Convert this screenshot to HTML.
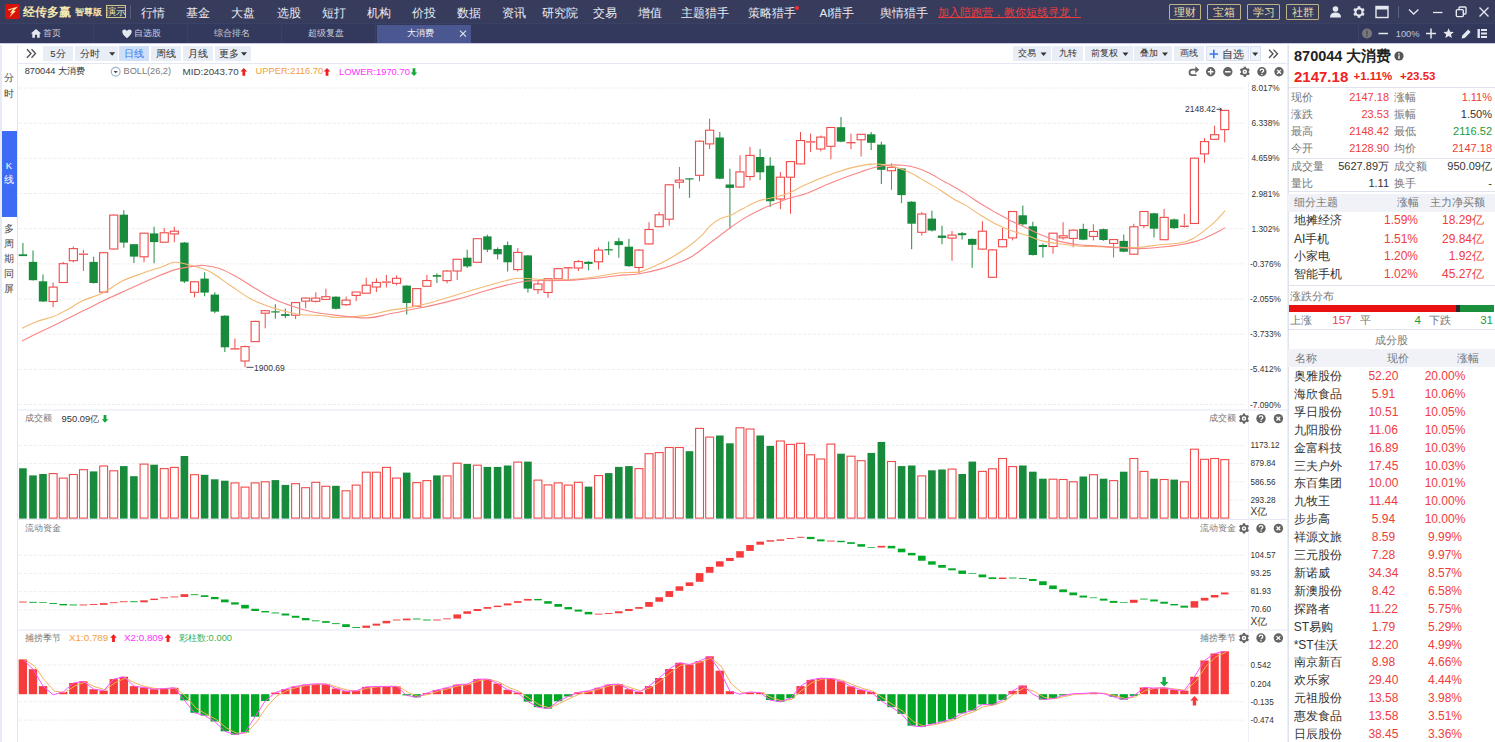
<!DOCTYPE html>
<html><head><meta charset="utf-8"><title>chart</title>
<style>
html,body{margin:0;padding:0;}
body{width:1495px;height:742px;overflow:hidden;background:#fff;position:relative;font-family:"Liberation Sans",sans-serif;}
.t{position:absolute;white-space:nowrap;overflow:visible;}
.b{position:absolute;}
svg{position:absolute;left:0;top:0;}
.g{stroke:#eeeeee;stroke-width:1;stroke-dasharray:3.3 1.6;}
</style></head><body>
<svg width="1495" height="742" viewBox="0 0 1495 742">
<line x1="19" y1="88.0" x2="1245" y2="88.0" class="g"/>
<line x1="19" y1="123.2" x2="1245" y2="123.2" class="g"/>
<line x1="19" y1="158.3" x2="1245" y2="158.3" class="g"/>
<line x1="19" y1="193.5" x2="1245" y2="193.5" class="g"/>
<line x1="19" y1="228.7" x2="1245" y2="228.7" class="g"/>
<line x1="19" y1="263.9" x2="1245" y2="263.9" class="g"/>
<line x1="19" y1="299.0" x2="1245" y2="299.0" class="g"/>
<line x1="19" y1="334.2" x2="1245" y2="334.2" class="g"/>
<line x1="19" y1="369.4" x2="1245" y2="369.4" class="g"/>
<line x1="19" y1="404.5" x2="1245" y2="404.5" class="g"/>
<line x1="19" y1="445.4" x2="1245" y2="445.4" class="g"/>
<line x1="19" y1="463.6" x2="1245" y2="463.6" class="g"/>
<line x1="19" y1="481.8" x2="1245" y2="481.8" class="g"/>
<line x1="19" y1="499.9" x2="1245" y2="499.9" class="g"/>
<line x1="19" y1="555.2" x2="1245" y2="555.2" class="g"/>
<line x1="19" y1="573.3" x2="1245" y2="573.3" class="g"/>
<line x1="19" y1="591.7" x2="1245" y2="591.7" class="g"/>
<line x1="19" y1="609.8" x2="1245" y2="609.8" class="g"/>
<line x1="19" y1="665.0" x2="1245" y2="665.0" class="g"/>
<line x1="19" y1="683.6" x2="1245" y2="683.6" class="g"/>
<line x1="19" y1="701.7" x2="1245" y2="701.7" class="g"/>
<line x1="19" y1="720.1" x2="1245" y2="720.1" class="g"/>
<line x1="18" y1="63.5" x2="1287" y2="63.5" stroke="#e4e8f2" stroke-width="1"/>
<line x1="18" y1="410" x2="1287" y2="410" stroke="#e4e8f2" stroke-width="1"/>
<line x1="18" y1="519.5" x2="1287" y2="519.5" stroke="#e4e8f2" stroke-width="1"/>
<line x1="18" y1="630" x2="1287" y2="630" stroke="#e4e8f2" stroke-width="1"/>
<line x1="1248.5" y1="82" x2="1248.5" y2="742" stroke="#edf0f7" stroke-width="1"/>
<line x1="22.9" y1="243.1" x2="22.9" y2="256.1" stroke="#178a3b" stroke-width="1.2" opacity=".8"/>
<rect x="18.7" y="254.3" width="8.4" height="1.8" fill="#178a3b"/>
<line x1="33.0" y1="250.4" x2="33.0" y2="280.6" stroke="#178a3b" stroke-width="1.2" opacity=".8"/>
<rect x="28.8" y="261.9" width="8.4" height="18.3" fill="#178a3b"/>
<line x1="43.0" y1="274.5" x2="43.0" y2="301.9" stroke="#178a3b" stroke-width="1.2" opacity=".8"/>
<rect x="38.8" y="281.3" width="8.4" height="20.2" fill="#178a3b"/>
<line x1="53.1" y1="282.5" x2="53.1" y2="287.1" stroke="#f04a4a" stroke-width="1"/>
<line x1="53.1" y1="301.5" x2="53.1" y2="307.2" stroke="#f04a4a" stroke-width="1"/>
<rect x="49.10" y="287.1" width="8.1" height="14.4" fill="#fff" stroke="#f04a4a" stroke-width="1.1"/>
<line x1="63.2" y1="261.9" x2="63.2" y2="263.7" stroke="#f04a4a" stroke-width="1"/>
<line x1="63.2" y1="282.5" x2="63.2" y2="282.9" stroke="#f04a4a" stroke-width="1"/>
<rect x="59.20" y="263.7" width="8.1" height="18.8" fill="#fff" stroke="#f04a4a" stroke-width="1.1"/>
<line x1="73.3" y1="246.5" x2="73.3" y2="248.6" stroke="#f04a4a" stroke-width="1"/>
<line x1="73.3" y1="260.7" x2="73.3" y2="262.3" stroke="#f04a4a" stroke-width="1"/>
<rect x="69.30" y="248.6" width="8.1" height="12.1" fill="#fff" stroke="#f04a4a" stroke-width="1.1"/>
<line x1="83.4" y1="249.9" x2="83.4" y2="253.4" stroke="#f04a4a" stroke-width="1"/>
<line x1="83.4" y1="255.0" x2="83.4" y2="271.0" stroke="#f04a4a" stroke-width="1"/>
<line x1="78.90" y1="254.2" x2="88.00" y2="254.2" stroke="#f04a4a" stroke-width="1.3"/>
<line x1="93.6" y1="256.8" x2="93.6" y2="283.4" stroke="#178a3b" stroke-width="1.2" opacity=".8"/>
<rect x="89.4" y="261.9" width="8.4" height="21.1" fill="#178a3b"/>
<line x1="103.7" y1="252.2" x2="103.7" y2="252.7" stroke="#f04a4a" stroke-width="1"/>
<line x1="103.7" y1="292.1" x2="103.7" y2="292.8" stroke="#f04a4a" stroke-width="1"/>
<rect x="99.60" y="252.7" width="8.1" height="39.4" fill="#fff" stroke="#f04a4a" stroke-width="1.1"/>
<line x1="113.8" y1="214.7" x2="113.8" y2="215.1" stroke="#f04a4a" stroke-width="1"/>
<line x1="113.8" y1="249.0" x2="113.8" y2="249.5" stroke="#f04a4a" stroke-width="1"/>
<rect x="109.70" y="215.1" width="8.1" height="33.9" fill="#fff" stroke="#f04a4a" stroke-width="1.1"/>
<line x1="123.8" y1="210.3" x2="123.8" y2="247.7" stroke="#178a3b" stroke-width="1.2" opacity=".8"/>
<rect x="119.6" y="214.7" width="8.4" height="27.9" fill="#178a3b"/>
<line x1="133.9" y1="244.2" x2="133.9" y2="263.0" stroke="#178a3b" stroke-width="1.2" opacity=".8"/>
<rect x="129.8" y="244.2" width="8.4" height="12.4" fill="#178a3b"/>
<line x1="144.0" y1="232.8" x2="144.0" y2="233.2" stroke="#f04a4a" stroke-width="1"/>
<line x1="144.0" y1="256.8" x2="144.0" y2="262.3" stroke="#f04a4a" stroke-width="1"/>
<rect x="140.00" y="233.2" width="8.1" height="23.6" fill="#fff" stroke="#f04a4a" stroke-width="1.1"/>
<line x1="154.1" y1="226.8" x2="154.1" y2="263.2" stroke="#178a3b" stroke-width="1.2" opacity=".8"/>
<rect x="149.9" y="233.4" width="8.4" height="8.7" fill="#178a3b"/>
<line x1="164.2" y1="227.9" x2="164.2" y2="232.8" stroke="#f04a4a" stroke-width="1"/>
<line x1="164.2" y1="242.2" x2="164.2" y2="242.6" stroke="#f04a4a" stroke-width="1"/>
<rect x="160.20" y="232.8" width="8.1" height="9.4" fill="#fff" stroke="#f04a4a" stroke-width="1.1"/>
<line x1="174.3" y1="226.8" x2="174.3" y2="231.2" stroke="#f04a4a" stroke-width="1"/>
<line x1="174.3" y1="233.9" x2="174.3" y2="242.2" stroke="#f04a4a" stroke-width="1"/>
<rect x="170.30" y="231.2" width="8.1" height="2.7" fill="#fff" stroke="#f04a4a" stroke-width="1.1"/>
<line x1="184.4" y1="241.9" x2="184.4" y2="282.9" stroke="#178a3b" stroke-width="1.2" opacity=".8"/>
<rect x="180.2" y="242.6" width="8.4" height="38.9" fill="#178a3b"/>
<line x1="194.5" y1="281.3" x2="194.5" y2="281.8" stroke="#f04a4a" stroke-width="1"/>
<line x1="194.5" y1="292.3" x2="194.5" y2="297.4" stroke="#f04a4a" stroke-width="1"/>
<rect x="190.50" y="281.8" width="8.1" height="10.5" fill="#fff" stroke="#f04a4a" stroke-width="1.1"/>
<line x1="204.6" y1="272.2" x2="204.6" y2="296.2" stroke="#178a3b" stroke-width="1.2" opacity=".8"/>
<rect x="200.4" y="278.6" width="8.4" height="14.0" fill="#178a3b"/>
<line x1="214.8" y1="292.3" x2="214.8" y2="313.2" stroke="#178a3b" stroke-width="1.2" opacity=".8"/>
<rect x="210.6" y="294.6" width="8.4" height="17.0" fill="#178a3b"/>
<line x1="224.8" y1="315.2" x2="224.8" y2="351.9" stroke="#178a3b" stroke-width="1.2" opacity=".8"/>
<rect x="220.7" y="315.7" width="8.4" height="31.6" fill="#178a3b"/>
<line x1="234.9" y1="338.6" x2="234.9" y2="348.5" stroke="#f04a4a" stroke-width="1"/>
<line x1="234.9" y1="349.4" x2="234.9" y2="349.4" stroke="#f04a4a" stroke-width="1"/>
<line x1="230.40" y1="348.9" x2="239.50" y2="348.9" stroke="#f04a4a" stroke-width="1.3"/>
<line x1="245.0" y1="345.5" x2="245.0" y2="346.6" stroke="#f04a4a" stroke-width="1"/>
<line x1="245.0" y1="361.1" x2="245.0" y2="367.2" stroke="#f04a4a" stroke-width="1"/>
<rect x="241.00" y="346.6" width="8.1" height="14.4" fill="#fff" stroke="#f04a4a" stroke-width="1.1"/>
<line x1="255.1" y1="320.7" x2="255.1" y2="321.4" stroke="#f04a4a" stroke-width="1"/>
<line x1="255.1" y1="341.6" x2="255.1" y2="342.0" stroke="#f04a4a" stroke-width="1"/>
<rect x="251.10" y="321.4" width="8.1" height="20.2" fill="#fff" stroke="#f04a4a" stroke-width="1.1"/>
<line x1="265.2" y1="310.0" x2="265.2" y2="310.7" stroke="#f04a4a" stroke-width="1"/>
<line x1="265.2" y1="313.2" x2="265.2" y2="328.3" stroke="#f04a4a" stroke-width="1"/>
<rect x="261.20" y="310.7" width="8.1" height="2.5" fill="#fff" stroke="#f04a4a" stroke-width="1.1"/>
<line x1="275.4" y1="304.2" x2="275.4" y2="318.7" stroke="#178a3b" stroke-width="1.2" opacity=".8"/>
<rect x="271.2" y="311.3" width="8.4" height="1.2" fill="#178a3b"/>
<line x1="285.4" y1="308.4" x2="285.4" y2="318.2" stroke="#178a3b" stroke-width="1.2" opacity=".8"/>
<rect x="281.2" y="314.1" width="8.4" height="1.8" fill="#178a3b"/>
<line x1="295.6" y1="302.2" x2="295.6" y2="302.6" stroke="#f04a4a" stroke-width="1"/>
<line x1="295.6" y1="315.2" x2="295.6" y2="319.1" stroke="#f04a4a" stroke-width="1"/>
<rect x="291.50" y="302.6" width="8.1" height="12.6" fill="#fff" stroke="#f04a4a" stroke-width="1.1"/>
<line x1="305.7" y1="297.6" x2="305.7" y2="298.1" stroke="#f04a4a" stroke-width="1"/>
<line x1="305.7" y1="301.0" x2="305.7" y2="308.4" stroke="#f04a4a" stroke-width="1"/>
<rect x="301.60" y="298.1" width="8.1" height="3.0" fill="#fff" stroke="#f04a4a" stroke-width="1.1"/>
<line x1="315.8" y1="292.3" x2="315.8" y2="298.1" stroke="#f04a4a" stroke-width="1"/>
<line x1="315.8" y1="301.3" x2="315.8" y2="302.6" stroke="#f04a4a" stroke-width="1"/>
<rect x="311.70" y="298.1" width="8.1" height="3.2" fill="#fff" stroke="#f04a4a" stroke-width="1.1"/>
<line x1="325.9" y1="288.7" x2="325.9" y2="296.7" stroke="#f04a4a" stroke-width="1"/>
<line x1="325.9" y1="299.4" x2="325.9" y2="299.9" stroke="#f04a4a" stroke-width="1"/>
<rect x="321.80" y="296.7" width="8.1" height="2.7" fill="#fff" stroke="#f04a4a" stroke-width="1.1"/>
<line x1="335.9" y1="296.2" x2="335.9" y2="309.5" stroke="#178a3b" stroke-width="1.2" opacity=".8"/>
<rect x="331.8" y="296.7" width="8.4" height="12.1" fill="#178a3b"/>
<line x1="346.1" y1="296.6" x2="346.1" y2="300.1" stroke="#f04a4a" stroke-width="1"/>
<line x1="346.1" y1="304.6" x2="346.1" y2="305.8" stroke="#f04a4a" stroke-width="1"/>
<rect x="342.00" y="300.1" width="8.1" height="4.6" fill="#fff" stroke="#f04a4a" stroke-width="1.1"/>
<line x1="356.2" y1="292.0" x2="356.2" y2="292.0" stroke="#f04a4a" stroke-width="1"/>
<line x1="356.2" y1="295.5" x2="356.2" y2="301.2" stroke="#f04a4a" stroke-width="1"/>
<rect x="352.10" y="292.0" width="8.1" height="3.4" fill="#fff" stroke="#f04a4a" stroke-width="1.1"/>
<line x1="366.2" y1="277.8" x2="366.2" y2="285.2" stroke="#f04a4a" stroke-width="1"/>
<line x1="366.2" y1="293.2" x2="366.2" y2="293.6" stroke="#f04a4a" stroke-width="1"/>
<rect x="362.20" y="285.2" width="8.1" height="8.0" fill="#fff" stroke="#f04a4a" stroke-width="1.1"/>
<line x1="376.4" y1="278.3" x2="376.4" y2="282.4" stroke="#f04a4a" stroke-width="1"/>
<line x1="376.4" y1="287.0" x2="376.4" y2="292.0" stroke="#f04a4a" stroke-width="1"/>
<rect x="372.30" y="282.4" width="8.1" height="4.6" fill="#fff" stroke="#f04a4a" stroke-width="1.1"/>
<line x1="386.4" y1="274.9" x2="386.4" y2="281.3" stroke="#f04a4a" stroke-width="1"/>
<line x1="386.4" y1="282.9" x2="386.4" y2="287.5" stroke="#f04a4a" stroke-width="1"/>
<line x1="381.90" y1="282.1" x2="391.00" y2="282.1" stroke="#f04a4a" stroke-width="1.3"/>
<line x1="396.6" y1="275.5" x2="396.6" y2="278.3" stroke="#f04a4a" stroke-width="1"/>
<line x1="396.6" y1="283.3" x2="396.6" y2="285.2" stroke="#f04a4a" stroke-width="1"/>
<rect x="392.50" y="278.3" width="8.1" height="5.0" fill="#fff" stroke="#f04a4a" stroke-width="1.1"/>
<line x1="406.7" y1="285.2" x2="406.7" y2="314.5" stroke="#178a3b" stroke-width="1.2" opacity=".8"/>
<rect x="402.5" y="285.6" width="8.4" height="17.4" fill="#178a3b"/>
<line x1="416.8" y1="288.1" x2="416.8" y2="288.6" stroke="#f04a4a" stroke-width="1"/>
<line x1="416.8" y1="306.2" x2="416.8" y2="306.7" stroke="#f04a4a" stroke-width="1"/>
<rect x="412.70" y="288.6" width="8.1" height="17.6" fill="#fff" stroke="#f04a4a" stroke-width="1.1"/>
<line x1="426.9" y1="274.9" x2="426.9" y2="280.6" stroke="#f04a4a" stroke-width="1"/>
<line x1="426.9" y1="286.3" x2="426.9" y2="286.8" stroke="#f04a4a" stroke-width="1"/>
<rect x="422.80" y="280.6" width="8.1" height="5.7" fill="#fff" stroke="#f04a4a" stroke-width="1.1"/>
<line x1="436.9" y1="273.3" x2="436.9" y2="282.9" stroke="#178a3b" stroke-width="1.2" opacity=".8"/>
<rect x="432.8" y="275.1" width="8.4" height="1.6" fill="#178a3b"/>
<line x1="447.1" y1="270.0" x2="447.1" y2="271.0" stroke="#f04a4a" stroke-width="1"/>
<line x1="447.1" y1="280.6" x2="447.1" y2="283.3" stroke="#f04a4a" stroke-width="1"/>
<rect x="443.00" y="271.0" width="8.1" height="9.6" fill="#fff" stroke="#f04a4a" stroke-width="1.1"/>
<line x1="457.2" y1="258.8" x2="457.2" y2="259.3" stroke="#f04a4a" stroke-width="1"/>
<line x1="457.2" y1="271.0" x2="457.2" y2="280.1" stroke="#f04a4a" stroke-width="1"/>
<rect x="453.10" y="259.3" width="8.1" height="11.7" fill="#fff" stroke="#f04a4a" stroke-width="1.1"/>
<line x1="467.2" y1="249.7" x2="467.2" y2="268.0" stroke="#178a3b" stroke-width="1.2" opacity=".8"/>
<rect x="463.1" y="257.7" width="8.4" height="8.7" fill="#178a3b"/>
<line x1="477.4" y1="238.2" x2="477.4" y2="238.7" stroke="#f04a4a" stroke-width="1"/>
<line x1="477.4" y1="262.3" x2="477.4" y2="262.7" stroke="#f04a4a" stroke-width="1"/>
<rect x="473.30" y="238.7" width="8.1" height="23.6" fill="#fff" stroke="#f04a4a" stroke-width="1.1"/>
<line x1="487.4" y1="234.8" x2="487.4" y2="251.9" stroke="#178a3b" stroke-width="1.2" opacity=".8"/>
<rect x="483.2" y="236.4" width="8.4" height="13.3" fill="#178a3b"/>
<line x1="497.6" y1="247.4" x2="497.6" y2="259.5" stroke="#178a3b" stroke-width="1.2" opacity=".8"/>
<rect x="493.4" y="249.0" width="8.4" height="5.3" fill="#178a3b"/>
<line x1="507.6" y1="241.6" x2="507.6" y2="271.4" stroke="#178a3b" stroke-width="1.2" opacity=".8"/>
<rect x="503.4" y="245.1" width="8.4" height="17.2" fill="#178a3b"/>
<line x1="517.8" y1="248.1" x2="517.8" y2="252.4" stroke="#f04a4a" stroke-width="1"/>
<line x1="517.8" y1="269.6" x2="517.8" y2="271.4" stroke="#f04a4a" stroke-width="1"/>
<rect x="513.70" y="252.4" width="8.1" height="17.2" fill="#fff" stroke="#f04a4a" stroke-width="1.1"/>
<line x1="527.9" y1="254.9" x2="527.9" y2="292.5" stroke="#178a3b" stroke-width="1.2" opacity=".8"/>
<rect x="523.6" y="255.4" width="8.4" height="33.2" fill="#178a3b"/>
<line x1="538.0" y1="280.6" x2="538.0" y2="284.0" stroke="#f04a4a" stroke-width="1"/>
<line x1="538.0" y1="289.7" x2="538.0" y2="293.9" stroke="#f04a4a" stroke-width="1"/>
<rect x="533.90" y="284.0" width="8.1" height="5.7" fill="#fff" stroke="#f04a4a" stroke-width="1.1"/>
<line x1="548.0" y1="278.3" x2="548.0" y2="278.8" stroke="#f04a4a" stroke-width="1"/>
<line x1="548.0" y1="292.5" x2="548.0" y2="297.8" stroke="#f04a4a" stroke-width="1"/>
<rect x="544.00" y="278.8" width="8.1" height="13.7" fill="#fff" stroke="#f04a4a" stroke-width="1.1"/>
<line x1="558.1" y1="268.2" x2="558.1" y2="268.7" stroke="#f04a4a" stroke-width="1"/>
<line x1="558.1" y1="278.8" x2="558.1" y2="279.2" stroke="#f04a4a" stroke-width="1"/>
<rect x="554.10" y="268.7" width="8.1" height="10.1" fill="#fff" stroke="#f04a4a" stroke-width="1.1"/>
<line x1="568.2" y1="267.3" x2="568.2" y2="267.3" stroke="#f04a4a" stroke-width="1"/>
<line x1="568.2" y1="268.2" x2="568.2" y2="279.4" stroke="#f04a4a" stroke-width="1"/>
<line x1="563.70" y1="267.8" x2="572.80" y2="267.8" stroke="#f04a4a" stroke-width="1.3"/>
<line x1="578.4" y1="260.0" x2="578.4" y2="261.6" stroke="#f04a4a" stroke-width="1"/>
<line x1="578.4" y1="268.0" x2="578.4" y2="271.0" stroke="#f04a4a" stroke-width="1"/>
<rect x="574.30" y="261.6" width="8.1" height="6.4" fill="#fff" stroke="#f04a4a" stroke-width="1.1"/>
<line x1="588.5" y1="261.1" x2="588.5" y2="270.3" stroke="#178a3b" stroke-width="1.2" opacity=".8"/>
<rect x="584.2" y="261.8" width="8.4" height="2.1" fill="#178a3b"/>
<line x1="598.5" y1="247.4" x2="598.5" y2="250.1" stroke="#f04a4a" stroke-width="1"/>
<line x1="598.5" y1="261.8" x2="598.5" y2="269.6" stroke="#f04a4a" stroke-width="1"/>
<rect x="594.50" y="250.1" width="8.1" height="11.7" fill="#fff" stroke="#f04a4a" stroke-width="1.1"/>
<line x1="608.6" y1="241.6" x2="608.6" y2="254.9" stroke="#178a3b" stroke-width="1.2" opacity=".8"/>
<rect x="604.4" y="249.2" width="8.4" height="1.2" fill="#178a3b"/>
<line x1="618.8" y1="237.7" x2="618.8" y2="257.7" stroke="#178a3b" stroke-width="1.2" opacity=".8"/>
<rect x="614.5" y="241.2" width="8.4" height="3.9" fill="#178a3b"/>
<line x1="628.9" y1="238.7" x2="628.9" y2="266.8" stroke="#178a3b" stroke-width="1.2" opacity=".8"/>
<rect x="624.6" y="246.7" width="8.4" height="19.5" fill="#178a3b"/>
<line x1="639.0" y1="249.0" x2="639.0" y2="250.1" stroke="#f04a4a" stroke-width="1"/>
<line x1="639.0" y1="267.5" x2="639.0" y2="273.7" stroke="#f04a4a" stroke-width="1"/>
<rect x="634.90" y="250.1" width="8.1" height="17.4" fill="#fff" stroke="#f04a4a" stroke-width="1.1"/>
<line x1="649.0" y1="222.2" x2="649.0" y2="229.5" stroke="#f04a4a" stroke-width="1"/>
<line x1="649.0" y1="243.9" x2="649.0" y2="244.4" stroke="#f04a4a" stroke-width="1"/>
<rect x="645.00" y="229.5" width="8.1" height="14.4" fill="#fff" stroke="#f04a4a" stroke-width="1.1"/>
<line x1="659.1" y1="211.9" x2="659.1" y2="214.8" stroke="#f04a4a" stroke-width="1"/>
<line x1="659.1" y1="226.7" x2="659.1" y2="227.2" stroke="#f04a4a" stroke-width="1"/>
<rect x="655.10" y="214.8" width="8.1" height="11.9" fill="#fff" stroke="#f04a4a" stroke-width="1.1"/>
<line x1="669.2" y1="184.4" x2="669.2" y2="184.8" stroke="#f04a4a" stroke-width="1"/>
<line x1="669.2" y1="219.2" x2="669.2" y2="225.6" stroke="#f04a4a" stroke-width="1"/>
<rect x="665.20" y="184.8" width="8.1" height="34.4" fill="#fff" stroke="#f04a4a" stroke-width="1.1"/>
<line x1="679.4" y1="166.9" x2="679.4" y2="180.1" stroke="#f04a4a" stroke-width="1"/>
<line x1="679.4" y1="182.2" x2="679.4" y2="188.6" stroke="#f04a4a" stroke-width="1"/>
<rect x="675.30" y="180.1" width="8.1" height="2.1" fill="#fff" stroke="#f04a4a" stroke-width="1.1"/>
<line x1="689.5" y1="178.3" x2="689.5" y2="197.8" stroke="#178a3b" stroke-width="1.2" opacity=".8"/>
<rect x="685.2" y="178.3" width="8.4" height="1.2" fill="#178a3b"/>
<line x1="699.5" y1="140.5" x2="699.5" y2="141.2" stroke="#f04a4a" stroke-width="1"/>
<line x1="699.5" y1="175.3" x2="699.5" y2="181.3" stroke="#f04a4a" stroke-width="1"/>
<rect x="695.50" y="141.2" width="8.1" height="34.1" fill="#fff" stroke="#f04a4a" stroke-width="1.1"/>
<line x1="709.6" y1="118.7" x2="709.6" y2="130.2" stroke="#f04a4a" stroke-width="1"/>
<line x1="709.6" y1="143.9" x2="709.6" y2="149.0" stroke="#f04a4a" stroke-width="1"/>
<rect x="705.60" y="130.2" width="8.1" height="13.7" fill="#fff" stroke="#f04a4a" stroke-width="1.1"/>
<line x1="719.8" y1="132.0" x2="719.8" y2="179.2" stroke="#178a3b" stroke-width="1.2" opacity=".8"/>
<rect x="715.5" y="137.5" width="8.4" height="41.2" fill="#178a3b"/>
<line x1="729.9" y1="168.7" x2="729.9" y2="228.3" stroke="#178a3b" stroke-width="1.2" opacity=".8"/>
<rect x="725.6" y="184.5" width="8.4" height="3.4" fill="#178a3b"/>
<line x1="740.0" y1="155.4" x2="740.0" y2="171.9" stroke="#f04a4a" stroke-width="1"/>
<line x1="740.0" y1="187.0" x2="740.0" y2="187.5" stroke="#f04a4a" stroke-width="1"/>
<rect x="735.90" y="171.9" width="8.1" height="15.1" fill="#fff" stroke="#f04a4a" stroke-width="1.1"/>
<line x1="750.0" y1="146.9" x2="750.0" y2="155.4" stroke="#f04a4a" stroke-width="1"/>
<line x1="750.0" y1="176.5" x2="750.0" y2="180.6" stroke="#f04a4a" stroke-width="1"/>
<rect x="746.00" y="155.4" width="8.1" height="21.1" fill="#fff" stroke="#f04a4a" stroke-width="1.1"/>
<line x1="760.1" y1="149.0" x2="760.1" y2="180.1" stroke="#178a3b" stroke-width="1.2" opacity=".8"/>
<rect x="755.9" y="157.0" width="8.4" height="15.3" fill="#178a3b"/>
<line x1="770.2" y1="157.2" x2="770.2" y2="206.9" stroke="#178a3b" stroke-width="1.2" opacity=".8"/>
<rect x="766.0" y="165.7" width="8.4" height="35.5" fill="#178a3b"/>
<line x1="780.4" y1="171.9" x2="780.4" y2="177.2" stroke="#f04a4a" stroke-width="1"/>
<line x1="780.4" y1="198.9" x2="780.4" y2="209.2" stroke="#f04a4a" stroke-width="1"/>
<rect x="776.30" y="177.2" width="8.1" height="21.8" fill="#fff" stroke="#f04a4a" stroke-width="1.1"/>
<line x1="790.5" y1="161.1" x2="790.5" y2="161.6" stroke="#f04a4a" stroke-width="1"/>
<line x1="790.5" y1="177.2" x2="790.5" y2="213.8" stroke="#f04a4a" stroke-width="1"/>
<rect x="786.40" y="161.6" width="8.1" height="15.6" fill="#fff" stroke="#f04a4a" stroke-width="1.1"/>
<line x1="800.5" y1="132.0" x2="800.5" y2="140.5" stroke="#f04a4a" stroke-width="1"/>
<line x1="800.5" y1="163.9" x2="800.5" y2="164.3" stroke="#f04a4a" stroke-width="1"/>
<rect x="796.50" y="140.5" width="8.1" height="23.4" fill="#fff" stroke="#f04a4a" stroke-width="1.1"/>
<line x1="810.6" y1="133.6" x2="810.6" y2="141.2" stroke="#f04a4a" stroke-width="1"/>
<line x1="810.6" y1="142.6" x2="810.6" y2="152.0" stroke="#f04a4a" stroke-width="1"/>
<line x1="806.10" y1="141.9" x2="815.20" y2="141.9" stroke="#f04a4a" stroke-width="1.3"/>
<line x1="820.8" y1="135.5" x2="820.8" y2="137.1" stroke="#f04a4a" stroke-width="1"/>
<line x1="820.8" y1="149.0" x2="820.8" y2="151.3" stroke="#f04a4a" stroke-width="1"/>
<rect x="816.70" y="137.1" width="8.1" height="11.9" fill="#fff" stroke="#f04a4a" stroke-width="1.1"/>
<line x1="830.9" y1="127.2" x2="830.9" y2="127.5" stroke="#f04a4a" stroke-width="1"/>
<line x1="830.9" y1="146.2" x2="830.9" y2="159.3" stroke="#f04a4a" stroke-width="1"/>
<rect x="826.80" y="127.5" width="8.1" height="18.8" fill="#fff" stroke="#f04a4a" stroke-width="1.1"/>
<line x1="841.0" y1="116.9" x2="841.0" y2="142.3" stroke="#178a3b" stroke-width="1.2" opacity=".8"/>
<rect x="836.8" y="127.2" width="8.4" height="14.4" fill="#178a3b"/>
<line x1="851.0" y1="133.6" x2="851.0" y2="142.3" stroke="#f04a4a" stroke-width="1"/>
<line x1="851.0" y1="143.0" x2="851.0" y2="149.2" stroke="#f04a4a" stroke-width="1"/>
<line x1="846.50" y1="142.7" x2="855.60" y2="142.7" stroke="#f04a4a" stroke-width="1.3"/>
<line x1="861.1" y1="134.1" x2="861.1" y2="134.3" stroke="#f04a4a" stroke-width="1"/>
<line x1="861.1" y1="139.8" x2="861.1" y2="156.5" stroke="#f04a4a" stroke-width="1"/>
<rect x="857.10" y="134.3" width="8.1" height="5.5" fill="#fff" stroke="#f04a4a" stroke-width="1.1"/>
<line x1="871.2" y1="132.0" x2="871.2" y2="150.1" stroke="#178a3b" stroke-width="1.2" opacity=".8"/>
<rect x="867.0" y="134.3" width="8.4" height="8.5" fill="#178a3b"/>
<line x1="881.4" y1="141.7" x2="881.4" y2="184.0" stroke="#178a3b" stroke-width="1.2" opacity=".8"/>
<rect x="877.1" y="144.6" width="8.4" height="25.2" fill="#178a3b"/>
<line x1="891.5" y1="163.4" x2="891.5" y2="167.3" stroke="#f04a4a" stroke-width="1"/>
<line x1="891.5" y1="170.8" x2="891.5" y2="189.8" stroke="#f04a4a" stroke-width="1"/>
<rect x="887.40" y="167.3" width="8.1" height="3.4" fill="#fff" stroke="#f04a4a" stroke-width="1.1"/>
<line x1="901.5" y1="168.0" x2="901.5" y2="203.1" stroke="#178a3b" stroke-width="1.2" opacity=".8"/>
<rect x="897.3" y="168.5" width="8.4" height="26.6" fill="#178a3b"/>
<line x1="911.6" y1="201.2" x2="911.6" y2="249.3" stroke="#178a3b" stroke-width="1.2" opacity=".8"/>
<rect x="907.4" y="201.7" width="8.4" height="22.0" fill="#178a3b"/>
<line x1="921.8" y1="212.2" x2="921.8" y2="214.0" stroke="#f04a4a" stroke-width="1"/>
<line x1="921.8" y1="232.4" x2="921.8" y2="235.6" stroke="#f04a4a" stroke-width="1"/>
<rect x="917.70" y="214.0" width="8.1" height="18.3" fill="#fff" stroke="#f04a4a" stroke-width="1.1"/>
<line x1="931.9" y1="210.8" x2="931.9" y2="231.5" stroke="#178a3b" stroke-width="1.2" opacity=".8"/>
<rect x="927.6" y="218.6" width="8.4" height="11.9" fill="#178a3b"/>
<line x1="942.0" y1="225.7" x2="942.0" y2="244.3" stroke="#178a3b" stroke-width="1.2" opacity=".8"/>
<rect x="937.8" y="235.6" width="8.4" height="2.3" fill="#178a3b"/>
<line x1="952.0" y1="231.0" x2="952.0" y2="235.1" stroke="#f04a4a" stroke-width="1"/>
<line x1="952.0" y1="238.1" x2="952.0" y2="260.8" stroke="#f04a4a" stroke-width="1"/>
<rect x="948.00" y="235.1" width="8.1" height="3.0" fill="#fff" stroke="#f04a4a" stroke-width="1.1"/>
<line x1="962.1" y1="232.0" x2="962.1" y2="239.6" stroke="#178a3b" stroke-width="1.2" opacity=".8"/>
<rect x="957.9" y="233.2" width="8.4" height="2.0" fill="#178a3b"/>
<line x1="972.2" y1="238.4" x2="972.2" y2="267.8" stroke="#178a3b" stroke-width="1.2" opacity=".8"/>
<rect x="968.0" y="238.9" width="8.4" height="5.9" fill="#178a3b"/>
<line x1="982.4" y1="221.2" x2="982.4" y2="231.2" stroke="#f04a4a" stroke-width="1"/>
<line x1="982.4" y1="249.1" x2="982.4" y2="249.9" stroke="#f04a4a" stroke-width="1"/>
<rect x="978.30" y="231.2" width="8.1" height="17.9" fill="#fff" stroke="#f04a4a" stroke-width="1.1"/>
<line x1="992.4" y1="249.4" x2="992.4" y2="249.9" stroke="#f04a4a" stroke-width="1"/>
<line x1="992.4" y1="277.3" x2="992.4" y2="277.8" stroke="#f04a4a" stroke-width="1"/>
<rect x="988.40" y="249.9" width="8.1" height="27.4" fill="#fff" stroke="#f04a4a" stroke-width="1.1"/>
<line x1="1002.5" y1="228.1" x2="1002.5" y2="239.6" stroke="#f04a4a" stroke-width="1"/>
<line x1="1002.5" y1="246.8" x2="1002.5" y2="247.3" stroke="#f04a4a" stroke-width="1"/>
<rect x="998.50" y="239.6" width="8.1" height="7.2" fill="#fff" stroke="#f04a4a" stroke-width="1.1"/>
<line x1="1012.6" y1="211.0" x2="1012.6" y2="211.5" stroke="#f04a4a" stroke-width="1"/>
<line x1="1012.6" y1="237.9" x2="1012.6" y2="240.4" stroke="#f04a4a" stroke-width="1"/>
<rect x="1008.60" y="211.5" width="8.1" height="26.4" fill="#fff" stroke="#f04a4a" stroke-width="1.1"/>
<line x1="1022.8" y1="205.6" x2="1022.8" y2="225.6" stroke="#178a3b" stroke-width="1.2" opacity=".8"/>
<rect x="1018.5" y="215.3" width="8.4" height="9.0" fill="#178a3b"/>
<line x1="1032.8" y1="221.7" x2="1032.8" y2="255.5" stroke="#178a3b" stroke-width="1.2" opacity=".8"/>
<rect x="1028.6" y="226.3" width="8.4" height="28.7" fill="#178a3b"/>
<line x1="1042.9" y1="243.5" x2="1042.9" y2="257.6" stroke="#178a3b" stroke-width="1.2" opacity=".8"/>
<rect x="1038.7" y="245.0" width="8.4" height="2.0" fill="#178a3b"/>
<line x1="1053.0" y1="232.7" x2="1053.0" y2="233.2" stroke="#f04a4a" stroke-width="1"/>
<line x1="1053.0" y1="246.6" x2="1053.0" y2="253.7" stroke="#f04a4a" stroke-width="1"/>
<rect x="1049.00" y="233.2" width="8.1" height="13.3" fill="#fff" stroke="#f04a4a" stroke-width="1.1"/>
<line x1="1063.1" y1="222.2" x2="1063.1" y2="235.8" stroke="#f04a4a" stroke-width="1"/>
<line x1="1063.1" y1="237.9" x2="1063.1" y2="239.6" stroke="#f04a4a" stroke-width="1"/>
<rect x="1059.10" y="235.8" width="8.1" height="2.0" fill="#fff" stroke="#f04a4a" stroke-width="1.1"/>
<line x1="1073.2" y1="229.4" x2="1073.2" y2="230.2" stroke="#f04a4a" stroke-width="1"/>
<line x1="1073.2" y1="238.4" x2="1073.2" y2="247.3" stroke="#f04a4a" stroke-width="1"/>
<rect x="1069.20" y="230.2" width="8.1" height="8.2" fill="#fff" stroke="#f04a4a" stroke-width="1.1"/>
<line x1="1083.3" y1="223.8" x2="1083.3" y2="240.2" stroke="#178a3b" stroke-width="1.2" opacity=".8"/>
<rect x="1079.1" y="228.9" width="8.4" height="10.8" fill="#178a3b"/>
<line x1="1093.4" y1="224.3" x2="1093.4" y2="231.5" stroke="#f04a4a" stroke-width="1"/>
<line x1="1093.4" y1="236.3" x2="1093.4" y2="240.4" stroke="#f04a4a" stroke-width="1"/>
<rect x="1089.40" y="231.5" width="8.1" height="4.9" fill="#fff" stroke="#f04a4a" stroke-width="1.1"/>
<line x1="1103.5" y1="228.6" x2="1103.5" y2="240.9" stroke="#178a3b" stroke-width="1.2" opacity=".8"/>
<rect x="1099.3" y="229.2" width="8.4" height="10.8" fill="#178a3b"/>
<line x1="1113.6" y1="239.1" x2="1113.6" y2="239.6" stroke="#f04a4a" stroke-width="1"/>
<line x1="1113.6" y1="243.5" x2="1113.6" y2="257.6" stroke="#f04a4a" stroke-width="1"/>
<rect x="1109.60" y="239.6" width="8.1" height="3.8" fill="#fff" stroke="#f04a4a" stroke-width="1.1"/>
<line x1="1123.7" y1="234.5" x2="1123.7" y2="252.2" stroke="#178a3b" stroke-width="1.2" opacity=".8"/>
<rect x="1119.5" y="240.9" width="8.4" height="10.8" fill="#178a3b"/>
<line x1="1133.8" y1="223.8" x2="1133.8" y2="226.8" stroke="#f04a4a" stroke-width="1"/>
<line x1="1133.8" y1="254.2" x2="1133.8" y2="255.0" stroke="#f04a4a" stroke-width="1"/>
<rect x="1129.80" y="226.8" width="8.1" height="27.4" fill="#fff" stroke="#f04a4a" stroke-width="1.1"/>
<line x1="1143.9" y1="211.0" x2="1143.9" y2="211.5" stroke="#f04a4a" stroke-width="1"/>
<line x1="1143.9" y1="225.6" x2="1143.9" y2="228.1" stroke="#f04a4a" stroke-width="1"/>
<rect x="1139.90" y="211.5" width="8.1" height="14.1" fill="#fff" stroke="#f04a4a" stroke-width="1.1"/>
<line x1="1154.0" y1="212.8" x2="1154.0" y2="237.6" stroke="#178a3b" stroke-width="1.2" opacity=".8"/>
<rect x="1149.8" y="213.3" width="8.4" height="15.4" fill="#178a3b"/>
<line x1="1164.1" y1="208.9" x2="1164.1" y2="217.4" stroke="#f04a4a" stroke-width="1"/>
<line x1="1164.1" y1="239.6" x2="1164.1" y2="240.2" stroke="#f04a4a" stroke-width="1"/>
<rect x="1160.10" y="217.4" width="8.1" height="22.3" fill="#fff" stroke="#f04a4a" stroke-width="1.1"/>
<line x1="1174.2" y1="218.4" x2="1174.2" y2="228.9" stroke="#178a3b" stroke-width="1.2" opacity=".8"/>
<rect x="1170.0" y="219.4" width="8.4" height="8.7" fill="#178a3b"/>
<line x1="1184.3" y1="214.0" x2="1184.3" y2="225.6" stroke="#f04a4a" stroke-width="1"/>
<line x1="1184.3" y1="227.1" x2="1184.3" y2="227.6" stroke="#f04a4a" stroke-width="1"/>
<line x1="1179.80" y1="226.3" x2="1188.90" y2="226.3" stroke="#f04a4a" stroke-width="1.3"/>
<line x1="1194.4" y1="157.7" x2="1194.4" y2="158.2" stroke="#f04a4a" stroke-width="1"/>
<line x1="1194.4" y1="223.5" x2="1194.4" y2="223.8" stroke="#f04a4a" stroke-width="1"/>
<rect x="1190.40" y="158.2" width="8.1" height="65.3" fill="#fff" stroke="#f04a4a" stroke-width="1.1"/>
<line x1="1204.5" y1="138.0" x2="1204.5" y2="141.6" stroke="#f04a4a" stroke-width="1"/>
<line x1="1204.5" y1="153.9" x2="1204.5" y2="162.8" stroke="#f04a4a" stroke-width="1"/>
<rect x="1200.50" y="141.6" width="8.1" height="12.3" fill="#fff" stroke="#f04a4a" stroke-width="1.1"/>
<line x1="1214.6" y1="125.7" x2="1214.6" y2="134.7" stroke="#f04a4a" stroke-width="1"/>
<line x1="1214.6" y1="139.3" x2="1214.6" y2="139.8" stroke="#f04a4a" stroke-width="1"/>
<rect x="1210.60" y="134.7" width="8.1" height="4.6" fill="#fff" stroke="#f04a4a" stroke-width="1.1"/>
<line x1="1224.7" y1="109.8" x2="1224.7" y2="110.4" stroke="#f04a4a" stroke-width="1"/>
<line x1="1224.7" y1="129.6" x2="1224.7" y2="142.4" stroke="#f04a4a" stroke-width="1"/>
<rect x="1220.70" y="110.4" width="8.1" height="19.2" fill="#fff" stroke="#f04a4a" stroke-width="1.1"/>
<path d="M22.0,328.3 C24.5,327.1 31.8,323.3 36.9,321.4 C42.1,319.5 48.0,318.7 52.9,316.8 C57.9,314.9 61.7,312.6 66.7,310.0 C71.7,307.3 76.6,303.7 82.7,300.8 C88.8,297.9 96.9,296.0 103.3,292.8 C109.8,289.5 115.2,284.6 121.7,281.3 C128.2,278.1 135.4,275.8 142.3,273.3 C149.2,270.8 157.6,268.3 162.9,266.4 C168.3,264.6 170.2,262.6 174.4,262.3 C178.6,262.0 182.4,263.2 188.1,264.6 C193.8,266.1 201.9,267.7 208.7,271.0 C215.6,274.4 222.5,280.2 229.3,284.8 C236.2,289.3 243.9,295.1 250.0,298.5 C256.1,301.9 260.3,303.3 266.0,305.4 C271.7,307.5 278.6,309.6 284.3,311.1 C290.1,312.6 293.9,313.8 300.4,314.5 C306.9,315.3 316.8,315.2 323.3,315.7 C329.8,316.2 332.0,317.6 339.3,317.5 C346.6,317.5 358.5,316.6 366.9,315.4 C375.3,314.2 382.2,311.8 389.8,310.4 C397.5,309.0 405.1,308.5 412.7,306.9 C420.4,305.4 428.0,303.3 435.6,301.2 C443.3,299.1 450.9,296.6 458.5,294.3 C466.2,292.0 473.8,289.7 481.5,287.5 C489.1,285.2 498.3,282.6 504.4,281.0 C510.5,279.5 513.5,278.7 518.1,278.3 C522.7,277.9 526.5,278.4 531.9,278.8 C537.2,279.1 543.3,280.0 550.2,280.1 C557.1,280.2 565.5,280.0 573.1,279.4 C580.7,278.9 588.4,277.8 596.0,276.7 C603.6,275.6 611.7,273.8 618.9,273.0 C626.2,272.2 633.8,272.9 639.5,271.9 C645.3,270.8 648.3,269.0 653.3,266.8 C658.2,264.7 663.6,262.1 669.3,258.8 C675.1,255.5 682.4,250.9 687.7,247.0 C693.1,243.2 697.7,239.2 701.5,235.6 C705.3,232.0 707.6,228.1 710.7,225.3 C713.7,222.5 716.4,220.6 719.8,218.9 C723.3,217.1 727.5,216.6 731.3,215.0 C735.1,213.3 738.1,211.1 742.7,208.8 C747.3,206.4 753.8,202.6 758.8,200.8 C763.7,198.9 767.5,199.0 772.5,197.8 C777.5,196.5 783.6,195.1 788.5,193.2 C793.5,191.3 796.9,188.8 802.3,186.3 C807.6,183.8 814.5,180.8 820.6,178.3 C826.7,175.8 832.8,173.4 838.9,171.4 C845.1,169.5 851.9,167.6 857.3,166.4 C862.6,165.2 866.4,164.4 871.0,164.1 C875.6,163.8 880.2,163.9 884.8,164.6 C889.3,165.2 893.9,166.5 898.5,168.0 C903.1,169.5 907.7,171.4 912.3,173.7 C916.8,176.0 921.4,179.1 926.0,181.7 C930.6,184.4 935.2,186.9 939.8,189.8 C944.3,192.6 949.2,196.4 953.5,198.9 C957.8,201.5 960.8,202.4 965.4,205.1 C969.9,207.8 975.6,212.1 980.7,215.3 C985.8,218.5 991.0,221.7 996.1,224.3 C1001.2,226.8 1006.3,228.9 1011.4,230.7 C1016.6,232.5 1021.7,233.6 1026.8,235.3 C1031.9,237.0 1037.0,239.6 1042.2,240.9 C1047.3,242.3 1051.6,242.6 1057.5,243.5 C1063.5,244.3 1071.2,245.5 1078.0,246.0 C1084.8,246.6 1091.7,246.3 1098.5,246.6 C1105.3,246.8 1112.1,247.2 1119.0,247.3 C1125.8,247.5 1132.6,247.8 1139.5,247.3 C1146.3,246.9 1153.1,245.5 1159.9,244.8 C1166.8,244.0 1174.9,244.0 1180.4,243.0 C1186.0,241.9 1188.9,240.6 1193.2,238.4 C1197.5,236.1 1202.2,232.4 1206.0,229.4 C1209.9,226.4 1213.1,223.6 1216.3,220.4 C1219.5,217.3 1223.7,212.3 1225.2,210.7" fill="none" stroke="#f3b971" stroke-width="1.1"/>
<path d="M22.0,340.9 C24.5,339.7 30.6,336.6 36.9,333.6 C43.2,330.5 52.2,326.3 59.8,322.6 C67.5,318.8 75.1,314.9 82.7,311.1 C90.4,307.3 98.0,303.3 105.6,299.7 C113.3,296.0 120.9,292.8 128.5,289.3 C136.2,285.9 143.8,282.3 151.5,279.0 C159.1,275.8 167.5,272.0 174.4,269.9 C181.2,267.8 187.7,267.2 192.7,266.4 C197.7,265.7 199.6,265.1 204.1,265.5 C208.7,265.9 214.5,266.7 220.2,268.7 C225.9,270.8 232.4,274.5 238.5,277.9 C244.6,281.3 250.7,285.7 256.8,289.3 C262.9,293.0 269.1,296.8 275.2,299.7 C281.3,302.5 287.4,304.5 293.5,306.5 C299.6,308.6 305.7,310.5 311.8,311.8 C317.9,313.1 321.0,313.5 330.2,314.5 C339.3,315.6 357.0,318.1 366.9,317.9 C376.9,317.8 382.2,315.3 389.8,313.8 C397.5,312.4 405.1,310.7 412.7,309.2 C420.4,307.7 428.0,306.4 435.6,304.6 C443.3,302.9 450.9,301.0 458.5,298.9 C466.2,296.8 473.8,294.3 481.5,292.0 C489.1,289.8 496.7,287.5 504.4,285.6 C512.0,283.8 519.6,281.9 527.3,281.0 C534.9,280.2 542.5,280.7 550.2,280.6 C557.8,280.4 565.5,280.5 573.1,280.1 C580.7,279.7 588.4,279.1 596.0,278.3 C603.6,277.5 611.7,276.3 618.9,275.5 C626.2,274.8 632.7,274.8 639.5,273.7 C646.4,272.6 654.4,270.7 660.2,269.1 C665.9,267.6 668.5,266.7 673.9,264.5 C679.3,262.4 686.2,259.9 692.3,256.2 C698.5,252.5 704.5,247.0 710.7,242.5 C716.8,237.9 723.6,232.6 729.0,228.7 C734.3,224.8 737.8,222.1 742.7,219.1 C747.7,216.0 753.8,212.8 758.8,210.4 C763.7,208.0 767.5,206.6 772.5,204.7 C777.5,202.7 782.8,200.4 788.5,198.5 C794.3,196.6 800.8,195.4 806.9,193.2 C813.0,191.0 819.1,187.7 825.2,185.2 C831.3,182.6 837.4,180.1 843.5,177.9 C849.6,175.6 856.5,173.2 861.9,171.4 C867.2,169.7 871.0,168.4 875.6,167.3 C880.2,166.2 884.8,165.4 889.3,165.0 C893.9,164.7 898.5,164.8 903.1,165.3 C907.7,165.7 912.3,166.6 916.8,168.0 C921.4,169.4 926.0,171.4 930.6,173.7 C935.2,176.0 941.1,179.9 944.3,181.7 C947.6,183.6 946.5,182.6 950.0,184.6 C953.5,186.6 960.2,190.4 965.4,193.6 C970.5,196.8 975.6,200.6 980.7,203.8 C985.8,207.0 991.0,209.9 996.1,212.8 C1001.2,215.6 1006.3,218.4 1011.4,221.0 C1016.6,223.5 1021.7,225.7 1026.8,228.1 C1031.9,230.5 1037.0,233.2 1042.2,235.3 C1047.3,237.4 1051.6,239.4 1057.5,240.9 C1063.5,242.5 1071.2,243.9 1078.0,244.8 C1084.8,245.6 1091.7,245.5 1098.5,246.0 C1105.3,246.6 1112.1,247.4 1119.0,247.8 C1125.8,248.3 1132.6,248.7 1139.5,248.6 C1146.3,248.5 1153.1,248.0 1159.9,247.3 C1166.8,246.7 1174.4,245.8 1180.4,244.8 C1186.4,243.8 1191.1,242.8 1195.8,241.4 C1200.5,240.0 1204.7,238.0 1208.6,236.3 C1212.4,234.6 1216.0,232.7 1218.8,231.2 C1221.6,229.7 1224.2,228.2 1225.2,227.6" fill="none" stroke="#f98686" stroke-width="1.1"/>
<rect x="19.1" y="468.3" width="7.6" height="50.3" fill="#178a3b"/>
<rect x="29.2" y="475.4" width="7.6" height="43.2" fill="#178a3b"/>
<rect x="39.2" y="474.0" width="7.6" height="44.6" fill="#178a3b"/>
<rect x="49.20" y="473.6" width="7.9" height="44.5" fill="#fff" stroke="#f04a4a" stroke-width="1.1"/>
<rect x="59.30" y="478.1" width="7.9" height="40.0" fill="#fff" stroke="#f04a4a" stroke-width="1.1"/>
<rect x="69.40" y="474.5" width="7.9" height="43.6" fill="#fff" stroke="#f04a4a" stroke-width="1.1"/>
<rect x="79.50" y="469.7" width="7.9" height="48.4" fill="#fff" stroke="#f04a4a" stroke-width="1.1"/>
<rect x="89.8" y="471.4" width="7.6" height="47.2" fill="#178a3b"/>
<rect x="99.70" y="466.0" width="7.9" height="52.1" fill="#fff" stroke="#f04a4a" stroke-width="1.1"/>
<rect x="109.80" y="470.8" width="7.9" height="47.3" fill="#fff" stroke="#f04a4a" stroke-width="1.1"/>
<rect x="120.0" y="466.1" width="7.6" height="52.5" fill="#178a3b"/>
<rect x="130.1" y="476.2" width="7.6" height="42.4" fill="#178a3b"/>
<rect x="140.10" y="464.1" width="7.9" height="54.0" fill="#fff" stroke="#f04a4a" stroke-width="1.1"/>
<rect x="150.3" y="464.7" width="7.6" height="53.9" fill="#178a3b"/>
<rect x="160.30" y="468.6" width="7.9" height="49.5" fill="#fff" stroke="#f04a4a" stroke-width="1.1"/>
<rect x="170.40" y="467.4" width="7.9" height="50.7" fill="#fff" stroke="#f04a4a" stroke-width="1.1"/>
<rect x="180.6" y="456.0" width="7.6" height="62.6" fill="#178a3b"/>
<rect x="190.60" y="474.7" width="7.9" height="43.4" fill="#fff" stroke="#f04a4a" stroke-width="1.1"/>
<rect x="200.8" y="474.8" width="7.6" height="43.8" fill="#178a3b"/>
<rect x="210.9" y="479.3" width="7.6" height="39.3" fill="#178a3b"/>
<rect x="221.0" y="480.7" width="7.6" height="37.9" fill="#178a3b"/>
<rect x="231.00" y="482.9" width="7.9" height="35.2" fill="#fff" stroke="#f04a4a" stroke-width="1.1"/>
<rect x="241.10" y="487.1" width="7.9" height="31.0" fill="#fff" stroke="#f04a4a" stroke-width="1.1"/>
<rect x="251.20" y="482.9" width="7.9" height="35.2" fill="#fff" stroke="#f04a4a" stroke-width="1.1"/>
<rect x="261.30" y="481.8" width="7.9" height="36.3" fill="#fff" stroke="#f04a4a" stroke-width="1.1"/>
<rect x="271.6" y="480.1" width="7.6" height="38.5" fill="#178a3b"/>
<rect x="281.6" y="484.9" width="7.6" height="33.7" fill="#178a3b"/>
<rect x="291.60" y="483.7" width="7.9" height="34.4" fill="#fff" stroke="#f04a4a" stroke-width="1.1"/>
<rect x="301.70" y="487.7" width="7.9" height="30.4" fill="#fff" stroke="#f04a4a" stroke-width="1.1"/>
<rect x="311.80" y="482.3" width="7.9" height="35.8" fill="#fff" stroke="#f04a4a" stroke-width="1.1"/>
<rect x="321.90" y="486.3" width="7.9" height="31.8" fill="#fff" stroke="#f04a4a" stroke-width="1.1"/>
<rect x="332.1" y="485.8" width="7.6" height="32.8" fill="#178a3b"/>
<rect x="342.10" y="490.8" width="7.9" height="27.3" fill="#fff" stroke="#f04a4a" stroke-width="1.1"/>
<rect x="352.20" y="485.1" width="7.9" height="33.0" fill="#fff" stroke="#f04a4a" stroke-width="1.1"/>
<rect x="362.30" y="472.2" width="7.9" height="45.9" fill="#fff" stroke="#f04a4a" stroke-width="1.1"/>
<rect x="372.40" y="472.2" width="7.9" height="45.9" fill="#fff" stroke="#f04a4a" stroke-width="1.1"/>
<rect x="382.50" y="467.4" width="7.9" height="50.7" fill="#fff" stroke="#f04a4a" stroke-width="1.1"/>
<rect x="392.60" y="478.1" width="7.9" height="40.0" fill="#fff" stroke="#f04a4a" stroke-width="1.1"/>
<rect x="402.9" y="472.6" width="7.6" height="46.0" fill="#178a3b"/>
<rect x="412.80" y="482.6" width="7.9" height="35.5" fill="#fff" stroke="#f04a4a" stroke-width="1.1"/>
<rect x="422.90" y="480.6" width="7.9" height="37.5" fill="#fff" stroke="#f04a4a" stroke-width="1.1"/>
<rect x="433.1" y="475.4" width="7.6" height="43.2" fill="#178a3b"/>
<rect x="443.10" y="475.9" width="7.9" height="42.2" fill="#fff" stroke="#f04a4a" stroke-width="1.1"/>
<rect x="453.20" y="463.2" width="7.9" height="54.9" fill="#fff" stroke="#f04a4a" stroke-width="1.1"/>
<rect x="463.4" y="463.9" width="7.6" height="54.7" fill="#178a3b"/>
<rect x="473.40" y="465.2" width="7.9" height="52.9" fill="#fff" stroke="#f04a4a" stroke-width="1.1"/>
<rect x="483.6" y="466.9" width="7.6" height="51.7" fill="#178a3b"/>
<rect x="493.8" y="466.9" width="7.6" height="51.7" fill="#178a3b"/>
<rect x="503.8" y="465.5" width="7.6" height="53.1" fill="#178a3b"/>
<rect x="513.80" y="462.1" width="7.9" height="56.0" fill="#fff" stroke="#f04a4a" stroke-width="1.1"/>
<rect x="524.1" y="461.6" width="7.6" height="57.0" fill="#178a3b"/>
<rect x="534.00" y="480.1" width="7.9" height="38.0" fill="#fff" stroke="#f04a4a" stroke-width="1.1"/>
<rect x="544.10" y="484.9" width="7.9" height="33.2" fill="#fff" stroke="#f04a4a" stroke-width="1.1"/>
<rect x="554.20" y="482.9" width="7.9" height="35.2" fill="#fff" stroke="#f04a4a" stroke-width="1.1"/>
<rect x="564.30" y="485.1" width="7.9" height="33.0" fill="#fff" stroke="#f04a4a" stroke-width="1.1"/>
<rect x="574.40" y="482.3" width="7.9" height="35.8" fill="#fff" stroke="#f04a4a" stroke-width="1.1"/>
<rect x="584.7" y="486.6" width="7.6" height="32.0" fill="#178a3b"/>
<rect x="594.60" y="475.6" width="7.9" height="42.5" fill="#fff" stroke="#f04a4a" stroke-width="1.1"/>
<rect x="604.9" y="473.1" width="7.6" height="45.5" fill="#178a3b"/>
<rect x="615.0" y="466.9" width="7.6" height="51.7" fill="#178a3b"/>
<rect x="625.1" y="466.1" width="7.6" height="52.5" fill="#178a3b"/>
<rect x="635.00" y="468.6" width="7.9" height="49.5" fill="#fff" stroke="#f04a4a" stroke-width="1.1"/>
<rect x="645.10" y="453.7" width="7.9" height="64.4" fill="#fff" stroke="#f04a4a" stroke-width="1.1"/>
<rect x="655.20" y="452.6" width="7.9" height="65.5" fill="#fff" stroke="#f04a4a" stroke-width="1.1"/>
<rect x="665.30" y="447.5" width="7.9" height="70.6" fill="#fff" stroke="#f04a4a" stroke-width="1.1"/>
<rect x="675.40" y="447.5" width="7.9" height="70.6" fill="#fff" stroke="#f04a4a" stroke-width="1.1"/>
<rect x="685.7" y="451.2" width="7.6" height="67.4" fill="#178a3b"/>
<rect x="695.60" y="428.4" width="7.9" height="89.7" fill="#fff" stroke="#f04a4a" stroke-width="1.1"/>
<rect x="705.70" y="437.1" width="7.9" height="81.0" fill="#fff" stroke="#f04a4a" stroke-width="1.1"/>
<rect x="716.0" y="435.5" width="7.6" height="83.1" fill="#178a3b"/>
<rect x="726.1" y="443.3" width="7.6" height="75.3" fill="#178a3b"/>
<rect x="736.00" y="427.8" width="7.9" height="90.3" fill="#fff" stroke="#f04a4a" stroke-width="1.1"/>
<rect x="746.10" y="429.0" width="7.9" height="89.1" fill="#fff" stroke="#f04a4a" stroke-width="1.1"/>
<rect x="756.4" y="435.5" width="7.6" height="83.1" fill="#178a3b"/>
<rect x="766.5" y="445.9" width="7.6" height="72.7" fill="#178a3b"/>
<rect x="776.40" y="441.0" width="7.9" height="77.1" fill="#fff" stroke="#f04a4a" stroke-width="1.1"/>
<rect x="786.50" y="444.4" width="7.9" height="73.7" fill="#fff" stroke="#f04a4a" stroke-width="1.1"/>
<rect x="796.60" y="443.3" width="7.9" height="74.8" fill="#fff" stroke="#f04a4a" stroke-width="1.1"/>
<rect x="806.70" y="454.8" width="7.9" height="63.3" fill="#fff" stroke="#f04a4a" stroke-width="1.1"/>
<rect x="816.80" y="459.0" width="7.9" height="59.1" fill="#fff" stroke="#f04a4a" stroke-width="1.1"/>
<rect x="826.90" y="444.1" width="7.9" height="74.0" fill="#fff" stroke="#f04a4a" stroke-width="1.1"/>
<rect x="837.2" y="453.7" width="7.6" height="64.9" fill="#178a3b"/>
<rect x="847.10" y="456.2" width="7.9" height="61.9" fill="#fff" stroke="#f04a4a" stroke-width="1.1"/>
<rect x="857.20" y="460.7" width="7.9" height="57.4" fill="#fff" stroke="#f04a4a" stroke-width="1.1"/>
<rect x="867.5" y="452.9" width="7.6" height="65.7" fill="#178a3b"/>
<rect x="877.6" y="441.9" width="7.6" height="76.7" fill="#178a3b"/>
<rect x="887.50" y="461.5" width="7.9" height="56.6" fill="#fff" stroke="#f04a4a" stroke-width="1.1"/>
<rect x="897.8" y="466.1" width="7.6" height="52.5" fill="#178a3b"/>
<rect x="907.9" y="465.5" width="7.6" height="53.1" fill="#178a3b"/>
<rect x="917.80" y="475.9" width="7.9" height="42.2" fill="#fff" stroke="#f04a4a" stroke-width="1.1"/>
<rect x="928.1" y="470.3" width="7.6" height="48.3" fill="#178a3b"/>
<rect x="938.2" y="469.5" width="7.6" height="49.1" fill="#178a3b"/>
<rect x="948.10" y="469.1" width="7.9" height="49.0" fill="#fff" stroke="#f04a4a" stroke-width="1.1"/>
<rect x="958.4" y="474.0" width="7.6" height="44.6" fill="#178a3b"/>
<rect x="968.5" y="461.6" width="7.6" height="57.0" fill="#178a3b"/>
<rect x="978.40" y="471.4" width="7.9" height="46.7" fill="#fff" stroke="#f04a4a" stroke-width="1.1"/>
<rect x="988.50" y="468.8" width="7.9" height="49.3" fill="#fff" stroke="#f04a4a" stroke-width="1.1"/>
<rect x="998.60" y="458.5" width="7.9" height="59.6" fill="#fff" stroke="#f04a4a" stroke-width="1.1"/>
<rect x="1008.70" y="466.6" width="7.9" height="51.5" fill="#fff" stroke="#f04a4a" stroke-width="1.1"/>
<rect x="1019.0" y="465.5" width="7.6" height="53.1" fill="#178a3b"/>
<rect x="1029.0" y="471.7" width="7.6" height="46.9" fill="#178a3b"/>
<rect x="1039.1" y="478.7" width="7.6" height="39.9" fill="#178a3b"/>
<rect x="1049.10" y="479.2" width="7.9" height="38.9" fill="#fff" stroke="#f04a4a" stroke-width="1.1"/>
<rect x="1059.20" y="479.5" width="7.9" height="38.6" fill="#fff" stroke="#f04a4a" stroke-width="1.1"/>
<rect x="1069.30" y="481.8" width="7.9" height="36.3" fill="#fff" stroke="#f04a4a" stroke-width="1.1"/>
<rect x="1079.5" y="476.5" width="7.6" height="42.1" fill="#178a3b"/>
<rect x="1089.50" y="474.7" width="7.9" height="43.4" fill="#fff" stroke="#f04a4a" stroke-width="1.1"/>
<rect x="1099.8" y="478.7" width="7.6" height="39.9" fill="#178a3b"/>
<rect x="1109.70" y="480.6" width="7.9" height="37.5" fill="#fff" stroke="#f04a4a" stroke-width="1.1"/>
<rect x="1119.9" y="471.7" width="7.6" height="46.9" fill="#178a3b"/>
<rect x="1129.90" y="458.5" width="7.9" height="59.6" fill="#fff" stroke="#f04a4a" stroke-width="1.1"/>
<rect x="1140.00" y="471.4" width="7.9" height="46.7" fill="#fff" stroke="#f04a4a" stroke-width="1.1"/>
<rect x="1150.2" y="478.7" width="7.6" height="39.9" fill="#178a3b"/>
<rect x="1160.20" y="479.5" width="7.9" height="38.6" fill="#fff" stroke="#f04a4a" stroke-width="1.1"/>
<rect x="1170.4" y="479.6" width="7.6" height="39.0" fill="#178a3b"/>
<rect x="1180.40" y="481.8" width="7.9" height="36.3" fill="#fff" stroke="#f04a4a" stroke-width="1.1"/>
<rect x="1190.50" y="449.2" width="7.9" height="68.9" fill="#fff" stroke="#f04a4a" stroke-width="1.1"/>
<rect x="1200.60" y="459.3" width="7.9" height="58.8" fill="#fff" stroke="#f04a4a" stroke-width="1.1"/>
<rect x="1210.70" y="458.5" width="7.9" height="59.6" fill="#fff" stroke="#f04a4a" stroke-width="1.1"/>
<rect x="1220.80" y="459.6" width="7.9" height="58.5" fill="#fff" stroke="#f04a4a" stroke-width="1.1"/>
<rect x="19.1" y="601.57" width="7.6" height="0.90" fill="#f53b3b"/>
<rect x="29.2" y="601.85" width="7.6" height="0.90" fill="#00a826"/>
<rect x="39.2" y="602.23" width="7.6" height="0.70" fill="#00a826"/>
<rect x="49.4" y="603.11" width="7.6" height="0.90" fill="#00a826"/>
<rect x="59.5" y="603.99" width="7.6" height="1.39" fill="#00a826"/>
<rect x="69.5" y="604.52" width="7.6" height="0.90" fill="#00a826"/>
<rect x="79.6" y="604.52" width="7.6" height="0.90" fill="#f53b3b"/>
<rect x="89.8" y="604.09" width="7.6" height="0.90" fill="#f53b3b"/>
<rect x="99.9" y="603.15" width="7.6" height="1.67" fill="#f53b3b"/>
<rect x="110.0" y="602.27" width="7.6" height="0.90" fill="#f53b3b"/>
<rect x="120.0" y="601.29" width="7.6" height="0.90" fill="#f53b3b"/>
<rect x="130.1" y="601.29" width="7.6" height="0.90" fill="#00a826"/>
<rect x="140.2" y="600.34" width="7.6" height="1.95" fill="#f53b3b"/>
<rect x="150.3" y="598.66" width="7.6" height="1.39" fill="#f53b3b"/>
<rect x="160.4" y="597.35" width="7.6" height="0.90" fill="#f53b3b"/>
<rect x="170.5" y="596.51" width="7.6" height="0.90" fill="#f53b3b"/>
<rect x="180.6" y="594.16" width="7.6" height="2.79" fill="#f53b3b"/>
<rect x="190.7" y="594.26" width="7.6" height="0.90" fill="#00a826"/>
<rect x="200.8" y="595.28" width="7.6" height="1.67" fill="#00a826"/>
<rect x="210.9" y="596.97" width="7.6" height="2.23" fill="#00a826"/>
<rect x="221.0" y="599.50" width="7.6" height="2.79" fill="#00a826"/>
<rect x="231.1" y="602.31" width="7.6" height="2.23" fill="#00a826"/>
<rect x="241.2" y="604.84" width="7.6" height="3.63" fill="#00a826"/>
<rect x="251.3" y="608.77" width="7.6" height="2.23" fill="#00a826"/>
<rect x="261.4" y="611.02" width="7.6" height="1.39" fill="#00a826"/>
<rect x="271.6" y="612.52" width="7.6" height="0.90" fill="#00a826"/>
<rect x="281.6" y="613.54" width="7.6" height="1.95" fill="#00a826"/>
<rect x="291.8" y="615.79" width="7.6" height="1.95" fill="#00a826"/>
<rect x="301.9" y="618.04" width="7.6" height="2.23" fill="#00a826"/>
<rect x="311.9" y="620.39" width="7.6" height="0.90" fill="#00a826"/>
<rect x="322.1" y="621.13" width="7.6" height="1.67" fill="#00a826"/>
<rect x="332.1" y="623.20" width="7.6" height="0.90" fill="#00a826"/>
<rect x="342.2" y="624.22" width="7.6" height="2.79" fill="#00a826"/>
<rect x="352.4" y="626.99" width="7.6" height="0.90" fill="#00a826"/>
<rect x="362.4" y="625.62" width="7.6" height="2.23" fill="#f53b3b"/>
<rect x="372.6" y="623.66" width="7.6" height="1.95" fill="#f53b3b"/>
<rect x="382.6" y="620.85" width="7.6" height="2.51" fill="#f53b3b"/>
<rect x="392.8" y="619.54" width="7.6" height="0.90" fill="#f53b3b"/>
<rect x="402.9" y="618.60" width="7.6" height="1.67" fill="#f53b3b"/>
<rect x="412.9" y="618.56" width="7.6" height="0.90" fill="#00a826"/>
<rect x="423.1" y="619.54" width="7.6" height="0.90" fill="#00a826"/>
<rect x="433.1" y="619.54" width="7.6" height="0.90" fill="#f53b3b"/>
<rect x="443.2" y="618.42" width="7.6" height="0.90" fill="#f53b3b"/>
<rect x="453.4" y="614.39" width="7.6" height="4.19" fill="#f53b3b"/>
<rect x="463.4" y="611.30" width="7.6" height="2.51" fill="#f53b3b"/>
<rect x="473.6" y="609.05" width="7.6" height="1.95" fill="#f53b3b"/>
<rect x="483.6" y="607.08" width="7.6" height="1.67" fill="#f53b3b"/>
<rect x="493.8" y="605.68" width="7.6" height="1.39" fill="#f53b3b"/>
<rect x="503.8" y="603.43" width="7.6" height="1.95" fill="#f53b3b"/>
<rect x="514.0" y="601.18" width="7.6" height="1.67" fill="#f53b3b"/>
<rect x="524.1" y="598.94" width="7.6" height="1.67" fill="#f53b3b"/>
<rect x="534.2" y="598.94" width="7.6" height="1.39" fill="#00a826"/>
<rect x="544.2" y="601.18" width="7.6" height="2.51" fill="#00a826"/>
<rect x="554.4" y="603.99" width="7.6" height="2.79" fill="#00a826"/>
<rect x="564.5" y="607.08" width="7.6" height="2.23" fill="#00a826"/>
<rect x="574.6" y="609.61" width="7.6" height="1.95" fill="#00a826"/>
<rect x="584.7" y="611.86" width="7.6" height="2.51" fill="#00a826"/>
<rect x="594.8" y="613.65" width="7.6" height="0.90" fill="#f53b3b"/>
<rect x="604.9" y="613.08" width="7.6" height="0.90" fill="#f53b3b"/>
<rect x="615.0" y="611.30" width="7.6" height="1.95" fill="#f53b3b"/>
<rect x="625.1" y="609.05" width="7.6" height="1.95" fill="#f53b3b"/>
<rect x="635.2" y="607.08" width="7.6" height="1.67" fill="#f53b3b"/>
<rect x="645.2" y="602.03" width="7.6" height="4.76" fill="#f53b3b"/>
<rect x="655.4" y="597.25" width="7.6" height="4.48" fill="#f53b3b"/>
<rect x="665.5" y="591.07" width="7.6" height="5.88" fill="#f53b3b"/>
<rect x="675.6" y="586.30" width="7.6" height="4.48" fill="#f53b3b"/>
<rect x="685.7" y="582.36" width="7.6" height="3.63" fill="#f53b3b"/>
<rect x="695.8" y="573.09" width="7.6" height="8.69" fill="#f53b3b"/>
<rect x="705.9" y="566.91" width="7.6" height="5.88" fill="#f53b3b"/>
<rect x="716.0" y="561.30" width="7.6" height="5.32" fill="#f53b3b"/>
<rect x="726.1" y="557.93" width="7.6" height="3.07" fill="#f53b3b"/>
<rect x="736.2" y="551.18" width="7.6" height="6.44" fill="#f53b3b"/>
<rect x="746.2" y="545.00" width="7.6" height="5.88" fill="#f53b3b"/>
<rect x="756.4" y="541.63" width="7.6" height="3.07" fill="#f53b3b"/>
<rect x="766.5" y="540.23" width="7.6" height="1.39" fill="#f53b3b"/>
<rect x="776.6" y="539.39" width="7.6" height="1.39" fill="#f53b3b"/>
<rect x="786.7" y="538.08" width="7.6" height="0.90" fill="#f53b3b"/>
<rect x="796.8" y="536.82" width="7.6" height="0.90" fill="#f53b3b"/>
<rect x="806.9" y="536.86" width="7.6" height="2.23" fill="#00a826"/>
<rect x="817.0" y="539.39" width="7.6" height="1.95" fill="#00a826"/>
<rect x="827.1" y="540.61" width="7.6" height="0.90" fill="#f53b3b"/>
<rect x="837.2" y="540.79" width="7.6" height="1.39" fill="#00a826"/>
<rect x="847.2" y="542.19" width="7.6" height="1.67" fill="#00a826"/>
<rect x="857.4" y="544.16" width="7.6" height="2.51" fill="#00a826"/>
<rect x="867.5" y="547.17" width="7.6" height="0.70" fill="#00a826"/>
<rect x="877.6" y="545.85" width="7.6" height="1.67" fill="#f53b3b"/>
<rect x="887.7" y="545.85" width="7.6" height="2.51" fill="#00a826"/>
<rect x="897.8" y="548.66" width="7.6" height="3.63" fill="#00a826"/>
<rect x="907.9" y="552.87" width="7.6" height="2.51" fill="#00a826"/>
<rect x="918.0" y="555.68" width="7.6" height="5.04" fill="#00a826"/>
<rect x="928.1" y="561.30" width="7.6" height="3.35" fill="#00a826"/>
<rect x="938.2" y="564.95" width="7.6" height="2.79" fill="#00a826"/>
<rect x="948.2" y="568.32" width="7.6" height="1.95" fill="#00a826"/>
<rect x="958.4" y="570.57" width="7.6" height="3.35" fill="#00a826"/>
<rect x="968.5" y="573.30" width="7.6" height="0.70" fill="#00a826"/>
<rect x="978.6" y="574.50" width="7.6" height="2.79" fill="#00a826"/>
<rect x="988.6" y="577.31" width="7.6" height="1.67" fill="#00a826"/>
<rect x="998.8" y="577.59" width="7.6" height="1.39" fill="#f53b3b"/>
<rect x="1008.9" y="577.55" width="7.6" height="0.90" fill="#00a826"/>
<rect x="1019.0" y="578.11" width="7.6" height="0.90" fill="#00a826"/>
<rect x="1029.0" y="578.99" width="7.6" height="1.95" fill="#00a826"/>
<rect x="1039.1" y="581.24" width="7.6" height="3.91" fill="#00a826"/>
<rect x="1049.2" y="585.45" width="7.6" height="3.63" fill="#00a826"/>
<rect x="1059.3" y="589.39" width="7.6" height="2.79" fill="#00a826"/>
<rect x="1069.4" y="592.48" width="7.6" height="2.79" fill="#00a826"/>
<rect x="1079.5" y="595.57" width="7.6" height="1.95" fill="#00a826"/>
<rect x="1089.6" y="597.45" width="7.6" height="0.70" fill="#00a826"/>
<rect x="1099.8" y="598.66" width="7.6" height="1.95" fill="#00a826"/>
<rect x="1109.8" y="600.90" width="7.6" height="1.95" fill="#00a826"/>
<rect x="1119.9" y="602.23" width="7.6" height="0.70" fill="#00a826"/>
<rect x="1130.0" y="599.78" width="7.6" height="3.07" fill="#f53b3b"/>
<rect x="1140.1" y="598.62" width="7.6" height="0.90" fill="#00a826"/>
<rect x="1150.2" y="599.50" width="7.6" height="1.95" fill="#00a826"/>
<rect x="1160.3" y="601.75" width="7.6" height="1.95" fill="#00a826"/>
<rect x="1170.4" y="603.99" width="7.6" height="1.39" fill="#00a826"/>
<rect x="1180.5" y="605.68" width="7.6" height="1.95" fill="#00a826"/>
<rect x="1190.6" y="601.18" width="7.6" height="6.44" fill="#f53b3b"/>
<rect x="1200.8" y="597.81" width="7.6" height="2.79" fill="#f53b3b"/>
<rect x="1210.8" y="595.00" width="7.6" height="2.51" fill="#f53b3b"/>
<rect x="1220.9" y="592.48" width="7.6" height="1.95" fill="#f53b3b"/>
<rect x="18.70" y="659.4" width="8.3" height="34.8" fill="#f53b3b"/>
<rect x="28.80" y="669.2" width="8.3" height="25.0" fill="#f53b3b"/>
<rect x="38.90" y="686.1" width="8.3" height="8.1" fill="#f53b3b"/>
<rect x="59.10" y="692.0" width="8.3" height="2.2" fill="#f53b3b"/>
<rect x="69.20" y="683.0" width="8.3" height="11.2" fill="#f53b3b"/>
<rect x="79.30" y="681.3" width="8.3" height="12.9" fill="#f53b3b"/>
<rect x="89.40" y="689.2" width="8.3" height="5.0" fill="#f53b3b"/>
<rect x="99.50" y="690.6" width="8.3" height="3.6" fill="#f53b3b"/>
<rect x="109.60" y="679.1" width="8.3" height="15.1" fill="#f53b3b"/>
<rect x="119.70" y="676.8" width="8.3" height="17.4" fill="#f53b3b"/>
<rect x="129.80" y="686.1" width="8.3" height="8.1" fill="#f53b3b"/>
<rect x="139.90" y="687.5" width="8.3" height="6.7" fill="#f53b3b"/>
<rect x="150.00" y="689.2" width="8.3" height="5.0" fill="#f53b3b"/>
<rect x="160.10" y="688.6" width="8.3" height="5.6" fill="#f53b3b"/>
<rect x="170.20" y="687.8" width="8.3" height="6.4" fill="#f53b3b"/>
<rect x="180.30" y="694.2" width="8.3" height="6.2" fill="#00a826"/>
<rect x="190.40" y="694.2" width="8.3" height="18.6" fill="#00a826"/>
<rect x="200.50" y="694.2" width="8.3" height="21.4" fill="#00a826"/>
<rect x="210.60" y="694.2" width="8.3" height="27.3" fill="#00a826"/>
<rect x="220.70" y="694.2" width="8.3" height="37.1" fill="#00a826"/>
<rect x="230.80" y="694.2" width="8.3" height="40.5" fill="#00a826"/>
<rect x="240.90" y="694.2" width="8.3" height="38.2" fill="#00a826"/>
<rect x="251.00" y="694.2" width="8.3" height="22.5" fill="#00a826"/>
<rect x="261.10" y="694.2" width="8.3" height="6.8" fill="#00a826"/>
<rect x="271.20" y="692.6" width="8.3" height="1.6" fill="#f53b3b"/>
<rect x="281.30" y="689.2" width="8.3" height="5.0" fill="#f53b3b"/>
<rect x="291.40" y="686.4" width="8.3" height="7.8" fill="#f53b3b"/>
<rect x="301.50" y="684.7" width="8.3" height="9.5" fill="#f53b3b"/>
<rect x="311.60" y="683.9" width="8.3" height="10.3" fill="#f53b3b"/>
<rect x="321.70" y="684.1" width="8.3" height="10.1" fill="#f53b3b"/>
<rect x="331.80" y="688.6" width="8.3" height="5.6" fill="#f53b3b"/>
<rect x="341.90" y="691.2" width="8.3" height="3.0" fill="#f53b3b"/>
<rect x="352.00" y="690.9" width="8.3" height="3.3" fill="#f53b3b"/>
<rect x="362.10" y="686.9" width="8.3" height="7.3" fill="#f53b3b"/>
<rect x="372.20" y="686.4" width="8.3" height="7.8" fill="#f53b3b"/>
<rect x="382.30" y="686.4" width="8.3" height="7.8" fill="#f53b3b"/>
<rect x="392.40" y="686.4" width="8.3" height="7.8" fill="#f53b3b"/>
<rect x="402.50" y="694.2" width="8.3" height="1.2" fill="#00a826"/>
<rect x="412.60" y="694.2" width="8.3" height="3.1" fill="#00a826"/>
<rect x="422.70" y="693.1" width="8.3" height="1.1" fill="#f53b3b"/>
<rect x="432.80" y="690.0" width="8.3" height="4.2" fill="#f53b3b"/>
<rect x="442.90" y="687.8" width="8.3" height="6.4" fill="#f53b3b"/>
<rect x="453.00" y="684.7" width="8.3" height="9.5" fill="#f53b3b"/>
<rect x="463.10" y="684.1" width="8.3" height="10.1" fill="#f53b3b"/>
<rect x="473.20" y="679.1" width="8.3" height="15.1" fill="#f53b3b"/>
<rect x="483.30" y="679.1" width="8.3" height="15.1" fill="#f53b3b"/>
<rect x="493.40" y="683.6" width="8.3" height="10.6" fill="#f53b3b"/>
<rect x="503.50" y="689.8" width="8.3" height="4.4" fill="#f53b3b"/>
<rect x="513.60" y="692.6" width="8.3" height="1.6" fill="#f53b3b"/>
<rect x="523.70" y="694.2" width="8.3" height="7.4" fill="#00a826"/>
<rect x="533.80" y="694.2" width="8.3" height="13.0" fill="#00a826"/>
<rect x="543.90" y="694.2" width="8.3" height="14.4" fill="#00a826"/>
<rect x="554.00" y="694.2" width="8.3" height="7.1" fill="#00a826"/>
<rect x="564.10" y="694.2" width="8.3" height="2.3" fill="#00a826"/>
<rect x="574.20" y="692.3" width="8.3" height="1.9" fill="#f53b3b"/>
<rect x="584.30" y="690.9" width="8.3" height="3.3" fill="#f53b3b"/>
<rect x="594.40" y="687.8" width="8.3" height="6.4" fill="#f53b3b"/>
<rect x="604.50" y="684.7" width="8.3" height="9.5" fill="#f53b3b"/>
<rect x="614.60" y="684.1" width="8.3" height="10.1" fill="#f53b3b"/>
<rect x="624.70" y="689.2" width="8.3" height="5.0" fill="#f53b3b"/>
<rect x="634.80" y="692.0" width="8.3" height="2.2" fill="#f53b3b"/>
<rect x="644.90" y="686.1" width="8.3" height="8.1" fill="#f53b3b"/>
<rect x="655.00" y="678.0" width="8.3" height="16.2" fill="#f53b3b"/>
<rect x="665.10" y="669.0" width="8.3" height="25.2" fill="#f53b3b"/>
<rect x="675.20" y="662.8" width="8.3" height="31.4" fill="#f53b3b"/>
<rect x="685.30" y="664.5" width="8.3" height="29.7" fill="#f53b3b"/>
<rect x="695.40" y="661.1" width="8.3" height="33.1" fill="#f53b3b"/>
<rect x="705.50" y="656.3" width="8.3" height="37.9" fill="#f53b3b"/>
<rect x="715.60" y="670.7" width="8.3" height="23.5" fill="#f53b3b"/>
<rect x="725.70" y="691.2" width="8.3" height="3.0" fill="#f53b3b"/>
<rect x="745.90" y="692.0" width="8.3" height="2.2" fill="#f53b3b"/>
<rect x="756.00" y="692.6" width="8.3" height="1.6" fill="#f53b3b"/>
<rect x="766.10" y="694.2" width="8.3" height="5.9" fill="#00a826"/>
<rect x="776.20" y="694.2" width="8.3" height="7.6" fill="#00a826"/>
<rect x="786.30" y="694.2" width="8.3" height="4.0" fill="#00a826"/>
<rect x="796.40" y="686.1" width="8.3" height="8.1" fill="#f53b3b"/>
<rect x="806.50" y="679.9" width="8.3" height="14.3" fill="#f53b3b"/>
<rect x="816.60" y="678.2" width="8.3" height="16.0" fill="#f53b3b"/>
<rect x="826.70" y="678.5" width="8.3" height="15.7" fill="#f53b3b"/>
<rect x="836.80" y="681.3" width="8.3" height="12.9" fill="#f53b3b"/>
<rect x="846.90" y="686.4" width="8.3" height="7.8" fill="#f53b3b"/>
<rect x="857.00" y="689.8" width="8.3" height="4.4" fill="#f53b3b"/>
<rect x="867.10" y="692.0" width="8.3" height="2.2" fill="#f53b3b"/>
<rect x="877.20" y="694.2" width="8.3" height="6.8" fill="#00a826"/>
<rect x="887.30" y="694.2" width="8.3" height="13.0" fill="#00a826"/>
<rect x="897.40" y="694.2" width="8.3" height="19.7" fill="#00a826"/>
<rect x="907.50" y="694.2" width="8.3" height="31.5" fill="#00a826"/>
<rect x="917.60" y="694.2" width="8.3" height="32.6" fill="#00a826"/>
<rect x="927.70" y="694.2" width="8.3" height="29.8" fill="#00a826"/>
<rect x="937.80" y="694.2" width="8.3" height="27.6" fill="#00a826"/>
<rect x="947.90" y="694.2" width="8.3" height="24.8" fill="#00a826"/>
<rect x="958.00" y="694.2" width="8.3" height="19.1" fill="#00a826"/>
<rect x="968.10" y="694.2" width="8.3" height="16.3" fill="#00a826"/>
<rect x="978.20" y="694.2" width="8.3" height="10.2" fill="#00a826"/>
<rect x="988.30" y="694.2" width="8.3" height="10.7" fill="#00a826"/>
<rect x="998.40" y="694.2" width="8.3" height="5.7" fill="#00a826"/>
<rect x="1008.50" y="690.9" width="8.3" height="3.3" fill="#f53b3b"/>
<rect x="1018.60" y="685.5" width="8.3" height="8.7" fill="#f53b3b"/>
<rect x="1038.80" y="694.2" width="8.3" height="5.4" fill="#00a826"/>
<rect x="1048.90" y="694.2" width="8.3" height="4.5" fill="#00a826"/>
<rect x="1059.00" y="694.2" width="8.3" height="1.2" fill="#00a826"/>
<rect x="1079.20" y="693.4" width="8.3" height="0.8" fill="#f53b3b"/>
<rect x="1089.30" y="692.8" width="8.3" height="1.4" fill="#f53b3b"/>
<rect x="1109.50" y="694.2" width="8.3" height="2.6" fill="#00a826"/>
<rect x="1119.60" y="694.2" width="8.3" height="5.4" fill="#00a826"/>
<rect x="1129.70" y="694.2" width="8.3" height="1.7" fill="#00a826"/>
<rect x="1139.80" y="687.5" width="8.3" height="6.7" fill="#f53b3b"/>
<rect x="1149.90" y="688.1" width="8.3" height="6.1" fill="#f53b3b"/>
<rect x="1160.00" y="687.8" width="8.3" height="6.4" fill="#f53b3b"/>
<rect x="1170.10" y="689.8" width="8.3" height="4.4" fill="#f53b3b"/>
<rect x="1180.20" y="690.6" width="8.3" height="3.6" fill="#f53b3b"/>
<rect x="1190.30" y="676.8" width="8.3" height="17.4" fill="#f53b3b"/>
<rect x="1200.40" y="660.5" width="8.3" height="33.7" fill="#f53b3b"/>
<rect x="1210.50" y="653.5" width="8.3" height="40.7" fill="#f53b3b"/>
<rect x="1220.60" y="651.3" width="8.3" height="42.9" fill="#f53b3b"/>
<polyline points="24.4,659.4 34.5,666.1 44.5,680.2 54.6,691.2 64.8,692.5 74.8,686.0 84.9,682.3 95.1,686.8 105.2,689.8 115.2,682.7 125.3,678.1 135.4,683.2 145.5,686.6 155.6,688.6 165.8,688.7 175.8,688.1 185.9,696.4 196.0,708.2 206.1,714.1 216.2,719.5 226.3,727.9 236.4,733.1 246.5,733.0 256.6,721.9 266.8,706.8 276.9,696.0 286.9,690.7 297.1,687.4 307.2,685.4 317.2,684.2 327.4,684.1 337.4,687.2 347.6,690.1 357.7,690.8 367.8,688.2 377.9,686.8 387.9,686.4 398.1,686.4 408.2,692.5 418.2,696.3 428.4,694.4 438.4,691.2 448.6,688.7 458.7,685.8 468.8,684.5 478.9,680.7 488.9,679.3 499.1,682.1 509.1,687.6 519.2,691.4 529.4,698.5 539.5,704.9 549.5,707.8 559.6,703.5 569.8,698.4 579.9,693.9 590.0,691.5 600.0,688.8 610.1,685.8 620.2,684.5 630.4,687.6 640.5,690.8 650.5,687.8 660.6,680.9 670.8,672.2 680.9,665.2 691.0,664.2 701.0,662.1 711.1,658.0 721.2,666.3 731.4,683.9 741.5,692.2 751.5,692.6 761.6,692.5 771.8,697.7 781.9,700.9 792.0,699.3 802.0,690.1 812.1,682.5 822.2,679.1 832.4,678.5 842.5,680.4 852.5,684.6 862.6,688.4 872.8,691.1 882.9,698.0 893.0,704.7 903.0,711.4 913.1,721.6 923.2,725.9 933.4,724.9 943.5,722.6 953.5,720.0 963.6,715.3 973.8,711.7 983.9,706.5 993.9,705.1 1004.0,701.5 1014.1,694.0 1024.2,687.7 1034.3,691.5 1044.4,697.4 1054.5,698.7 1064.6,696.5 1074.7,694.4 1084.8,693.6 1094.9,693.0 1105.0,693.4 1115.1,695.7 1125.2,698.5 1135.3,697.0 1145.4,690.4 1155.5,688.3 1165.6,687.8 1175.7,689.1 1185.8,690.2 1195.9,681.2 1206.0,666.4 1216.1,656.6 1226.2,652.3" fill="none" stroke="#f2b25e" stroke-width="1" stroke-linejoin="round"/>
<polyline points="22.9,659.4 33.0,669.2 43.0,686.1 53.1,694.8 63.2,692.0 73.3,683.0 83.4,681.3 93.6,689.2 103.7,690.6 113.8,679.1 123.8,676.8 133.9,686.1 144.0,687.5 154.1,689.2 164.2,688.6 174.3,687.8 184.4,700.4 194.5,712.8 204.6,715.6 214.8,721.5 224.8,731.3 234.9,734.7 245.0,732.4 255.1,716.7 265.2,701.0 275.4,692.6 285.4,689.2 295.6,686.4 305.7,684.7 315.8,683.9 325.9,684.1 335.9,688.6 346.1,691.2 356.2,690.9 366.2,686.9 376.4,686.4 386.4,686.4 396.6,686.4 406.7,695.4 416.8,697.3 426.9,693.1 436.9,690.0 447.1,687.8 457.2,684.7 467.2,684.1 477.4,679.1 487.4,679.1 497.6,683.6 507.6,689.8 517.8,692.6 527.9,701.6 538.0,707.2 548.0,708.6 558.1,701.3 568.2,696.5 578.4,692.3 588.5,690.9 598.5,687.8 608.6,684.7 618.8,684.1 628.9,689.2 639.0,692.0 649.0,686.1 659.1,678.0 669.2,669.0 679.4,662.8 689.5,664.5 699.5,661.1 709.6,656.3 719.8,670.7 729.9,691.2 740.0,694.2 750.0,692.0 760.1,692.6 770.2,700.1 780.4,701.8 790.5,698.2 800.5,686.1 810.6,679.9 820.8,678.2 830.9,678.5 841.0,681.3 851.0,686.4 861.1,689.8 871.2,692.0 881.4,701.0 891.5,707.2 901.5,713.9 911.6,725.7 921.8,726.8 931.9,724.0 942.0,721.8 952.0,719.0 962.1,713.3 972.2,710.5 982.4,704.4 992.4,704.9 1002.5,699.9 1012.6,690.9 1022.8,685.5 1032.8,694.0 1042.9,699.6 1053.0,698.7 1063.1,695.4 1073.2,693.7 1083.3,693.4 1093.4,692.8 1103.5,693.7 1113.6,696.8 1123.7,699.6 1133.8,695.9 1143.9,687.5 1154.0,688.1 1164.1,687.8 1174.2,689.8 1184.3,690.6 1194.4,676.8 1204.5,660.5 1214.6,653.5 1224.7,651.3" fill="none" stroke="#ff52ff" stroke-width="1" stroke-linejoin="round"/>
<path d="M1164.1499999999999,686.5 l4.2,-4.6 h-2.5 v-4.8 h-3.4 v4.8 h-2.5 z" fill="#12b040"/>
<path d="M1194.4499999999998,696 l4.2,4.6 h-2.5 v4.8 h-3.4 v-4.8 h-2.5 z" fill="#f53b3b"/>
</svg>
<div class="b" style="left:0.0px;top:0.0px;width:1495.0px;height:23.5px;background:#373c5d;"></div>
<div class="b" style="left:0.0px;top:23.5px;width:1495.0px;height:20.0px;background:#33395c;"></div>
<div class="b" style="left:0.0px;top:43.3px;width:1495.0px;height:1.2px;background:#c9cbe6;"></div>
<div class="b" style="left:0.0px;top:23.0px;width:1495.0px;height:1.0px;background:#3a4167;"></div>
<div class="b" style="left:5.0px;top:3.8px;width:15.1px;height:15.4px;background:#d8120a;border-radius:2px;"></div>
<div class="t" style="top:3.9px;height:16.2px;line-height:16.2px;font-size:12.2px;color:#f3e7b0;font-weight:bold;left:23.3px;">经传多赢</div>
<div class="t" style="top:6.0px;height:13px;line-height:13px;font-size:9px;color:#f3e7b0;font-weight:bold;left:75.4px;">智尊版</div>
<div class="b" style="left:105.5px;top:4.7px;width:20.5px;height:13.8px;background:transparent;border:1px solid #cfc68a;box-sizing:border-box;"></div>
<div class="t" style="top:4.8px;height:13.5px;line-height:13.5px;font-size:9.5px;color:#efe5a6;left:-34.2px;width:300px;text-align:center;">演示</div>
<div class="b" style="left:129.5px;top:5.0px;width:1.0px;height:14.0px;background:#565c7c;"></div>
<div class="t" style="top:4.7px;height:15.6px;line-height:15.6px;font-size:11.6px;color:#e9ebf2;left:3.0px;width:300px;text-align:center;">行情</div>
<div class="t" style="top:4.7px;height:15.6px;line-height:15.6px;font-size:11.6px;color:#e9ebf2;left:48.0px;width:300px;text-align:center;">基金</div>
<div class="t" style="top:4.7px;height:15.6px;line-height:15.6px;font-size:11.6px;color:#e9ebf2;left:93.0px;width:300px;text-align:center;">大盘</div>
<div class="t" style="top:4.7px;height:15.6px;line-height:15.6px;font-size:11.6px;color:#e9ebf2;left:138.5px;width:300px;text-align:center;">选股</div>
<div class="t" style="top:4.7px;height:15.6px;line-height:15.6px;font-size:11.6px;color:#e9ebf2;left:183.7px;width:300px;text-align:center;">短打</div>
<div class="t" style="top:4.7px;height:15.6px;line-height:15.6px;font-size:11.6px;color:#e9ebf2;left:228.8px;width:300px;text-align:center;">机构</div>
<div class="t" style="top:4.7px;height:15.6px;line-height:15.6px;font-size:11.6px;color:#e9ebf2;left:274.0px;width:300px;text-align:center;">价投</div>
<div class="t" style="top:4.7px;height:15.6px;line-height:15.6px;font-size:11.6px;color:#e9ebf2;left:319.0px;width:300px;text-align:center;">数据</div>
<div class="t" style="top:4.7px;height:15.6px;line-height:15.6px;font-size:11.6px;color:#e9ebf2;left:364.0px;width:300px;text-align:center;">资讯</div>
<div class="t" style="top:4.7px;height:15.6px;line-height:15.6px;font-size:11.6px;color:#e9ebf2;left:409.5px;width:300px;text-align:center;">研究院</div>
<div class="t" style="top:4.7px;height:15.6px;line-height:15.6px;font-size:11.6px;color:#e9ebf2;left:454.6px;width:300px;text-align:center;">交易</div>
<div class="t" style="top:4.7px;height:15.6px;line-height:15.6px;font-size:11.6px;color:#e9ebf2;left:499.8px;width:300px;text-align:center;">增值</div>
<div class="t" style="top:4.7px;height:15.6px;line-height:15.6px;font-size:11.6px;color:#e9ebf2;left:555.0px;width:300px;text-align:center;">主题猎手</div>
<div class="t" style="top:4.7px;height:15.6px;line-height:15.6px;font-size:11.6px;color:#e9ebf2;left:622.0px;width:300px;text-align:center;">策略猎手</div>
<div class="t" style="top:4.7px;height:15.6px;line-height:15.6px;font-size:11.6px;color:#e9ebf2;left:687.0px;width:300px;text-align:center;">AI猎手</div>
<div class="t" style="top:4.7px;height:15.6px;line-height:15.6px;font-size:11.6px;color:#e9ebf2;left:753.5px;width:300px;text-align:center;">舆情猎手</div>
<div class="b" style="left:794.5px;top:6.0px;width:4.0px;height:4.0px;background:#ff2a2a;border-radius:50%;"></div>
<div class="t" style="top:4.8px;height:15.3px;line-height:15.3px;font-size:11.3px;color:#f23c3c;left:938.0px;text-decoration:underline;">加入陪跑营，教你短线寻龙！</div>
<div class="b" style="left:1168.5px;top:4.0px;width:32.5px;height:15.6px;background:transparent;border:1px solid #bdb384;box-sizing:border-box;border-radius:1px;"></div>
<div class="t" style="top:4.8px;height:14.5px;line-height:14.5px;font-size:10.5px;color:#e9dfa4;left:1034.8px;width:300px;text-align:center;">理财</div>
<div class="b" style="left:1207.0px;top:4.0px;width:34.0px;height:15.6px;background:transparent;border:1px solid #bdb384;box-sizing:border-box;border-radius:1px;"></div>
<div class="t" style="top:4.8px;height:14.5px;line-height:14.5px;font-size:10.5px;color:#e9dfa4;left:1074.0px;width:300px;text-align:center;">宝箱</div>
<div class="b" style="left:1247.0px;top:4.0px;width:33.0px;height:15.6px;background:transparent;border:1px solid #bdb384;box-sizing:border-box;border-radius:1px;"></div>
<div class="t" style="top:4.8px;height:14.5px;line-height:14.5px;font-size:10.5px;color:#e9dfa4;left:1113.5px;width:300px;text-align:center;">学习</div>
<div class="b" style="left:1286.0px;top:4.0px;width:33.0px;height:15.6px;background:transparent;border:1px solid #bdb384;box-sizing:border-box;border-radius:1px;"></div>
<div class="t" style="top:4.8px;height:14.5px;line-height:14.5px;font-size:10.5px;color:#e9dfa4;left:1152.5px;width:300px;text-align:center;">社群</div>
<div class="b" style="left:1398.0px;top:6.0px;width:1.0px;height:12.0px;background:#5d6384;"></div>
<div class="t" style="top:26.8px;height:13.4px;line-height:13.4px;font-size:9.4px;color:#c3c6d5;left:1257.7px;width:300px;text-align:center;">100%</div>
<div class="b" style="left:1358.0px;top:24.5px;width:1.0px;height:18.5px;background:#3d446b;"></div>
<div class="b" style="left:376.5px;top:24.5px;width:94.5px;height:18.8px;background:#4a5791;"></div>
<div class="b" style="left:93.0px;top:25.0px;width:1.0px;height:18.0px;background:#3a4168;"></div>
<div class="b" style="left:187.0px;top:25.0px;width:1.0px;height:18.0px;background:#3a4168;"></div>
<div class="b" style="left:281.0px;top:25.0px;width:1.0px;height:18.0px;background:#3a4168;"></div>
<div class="b" style="left:375.0px;top:25.0px;width:1.0px;height:18.0px;background:#3a4168;"></div>
<div class="t" style="top:27.2px;height:13.1px;line-height:13.1px;font-size:9.1px;color:#c9ccdc;left:43.0px;">首页</div>
<div class="t" style="top:27.2px;height:13.1px;line-height:13.1px;font-size:9.1px;color:#c9ccdc;left:134.0px;">自选股</div>
<div class="t" style="top:27.2px;height:13.1px;line-height:13.1px;font-size:9.1px;color:#c9ccdc;left:81.8px;width:300px;text-align:center;">综合排名</div>
<div class="t" style="top:27.2px;height:13.1px;line-height:13.1px;font-size:9.1px;color:#c9ccdc;left:176.0px;width:300px;text-align:center;">超级复盘</div>
<div class="t" style="top:27.2px;height:13.1px;line-height:13.1px;font-size:9.1px;color:#f4f5fa;left:270.5px;width:300px;text-align:center;">大消费</div>
<div class="b" style="left:0.0px;top:44.5px;width:17.5px;height:700.0px;background:#ffffff;"></div>
<div class="b" style="left:17.0px;top:44.5px;width:1.0px;height:700.0px;background:#e2e5f0;"></div>
<div class="b" style="left:0.0px;top:44.5px;width:2.0px;height:700.0px;background:#e8eaf4;"></div>
<div class="b" style="left:1.8px;top:131.0px;width:15.4px;height:85.5px;background:#3d6bf3;"></div>
<div class="t" style="top:71.2px;height:13.5px;line-height:13.5px;font-size:9.5px;color:#444;left:-141.0px;width:300px;text-align:center;">分</div>
<div class="t" style="top:86.8px;height:13.5px;line-height:13.5px;font-size:9.5px;color:#444;left:-141.0px;width:300px;text-align:center;">时</div>
<div class="t" style="top:158.8px;height:13.5px;line-height:13.5px;font-size:9.5px;color:#fff;left:-141.0px;width:300px;text-align:center;">K</div>
<div class="t" style="top:172.8px;height:13.5px;line-height:13.5px;font-size:9.5px;color:#fff;left:-141.0px;width:300px;text-align:center;">线</div>
<div class="t" style="top:222.2px;height:13.5px;line-height:13.5px;font-size:9.5px;color:#444;left:-141.0px;width:300px;text-align:center;">多</div>
<div class="t" style="top:236.8px;height:13.5px;line-height:13.5px;font-size:9.5px;color:#444;left:-141.0px;width:300px;text-align:center;">周</div>
<div class="t" style="top:252.2px;height:13.5px;line-height:13.5px;font-size:9.5px;color:#444;left:-141.0px;width:300px;text-align:center;">期</div>
<div class="t" style="top:266.9px;height:13.5px;line-height:13.5px;font-size:9.5px;color:#444;left:-141.0px;width:300px;text-align:center;">同</div>
<div class="t" style="top:282.2px;height:13.5px;line-height:13.5px;font-size:9.5px;color:#444;left:-141.0px;width:300px;text-align:center;">屏</div>
<div class="b" style="left:43.0px;top:46.3px;width:30.0px;height:15.0px;background:#e9edf6;"></div>
<div class="t" style="top:46.9px;height:13.6px;line-height:13.6px;font-size:9.6px;color:#333;left:-92.0px;width:300px;text-align:center;">5分</div>
<div class="b" style="left:75.0px;top:46.3px;width:30.5px;height:15.0px;background:#e9edf6;"></div>
<div class="t" style="top:46.9px;height:13.6px;line-height:13.6px;font-size:9.6px;color:#333;left:-59.8px;width:300px;text-align:center;">分时</div>
<div class="b" style="left:106.4px;top:46.3px;width:11.6px;height:15.0px;background:#e9edf6;"></div>
<div class="b" style="left:119.0px;top:46.3px;width:30.0px;height:15.0px;background:#cfdff8;"></div>
<div class="t" style="top:46.9px;height:13.6px;line-height:13.6px;font-size:9.6px;color:#3b78f0;left:-16.0px;width:300px;text-align:center;">日线</div>
<div class="b" style="left:151.0px;top:46.3px;width:30.0px;height:15.0px;background:#e9edf6;"></div>
<div class="t" style="top:46.9px;height:13.6px;line-height:13.6px;font-size:9.6px;color:#333;left:16.0px;width:300px;text-align:center;">周线</div>
<div class="b" style="left:182.6px;top:46.3px;width:30.4px;height:15.0px;background:#e9edf6;"></div>
<div class="t" style="top:46.9px;height:13.6px;line-height:13.6px;font-size:9.6px;color:#333;left:47.8px;width:300px;text-align:center;">月线</div>
<div class="b" style="left:214.8px;top:46.3px;width:36.5px;height:15.0px;background:#e9edf6;"></div>
<div class="t" style="top:46.9px;height:13.6px;line-height:13.6px;font-size:9.6px;color:#333;left:79.1px;width:300px;text-align:center;">更多</div>
<div class="b" style="left:1013.0px;top:46.3px;width:37.6px;height:15.0px;background:#e9edf6;"></div>
<div class="t" style="top:47.2px;height:13.1px;line-height:13.1px;font-size:9.1px;color:#333;left:877.3px;width:300px;text-align:center;">交易</div>
<div class="b" style="left:1052.0px;top:46.3px;width:31.0px;height:15.0px;background:#e9edf6;"></div>
<div class="t" style="top:47.2px;height:13.1px;line-height:13.1px;font-size:9.1px;color:#333;left:917.5px;width:300px;text-align:center;">九转</div>
<div class="b" style="left:1085.0px;top:46.3px;width:47.5px;height:15.0px;background:#e9edf6;"></div>
<div class="t" style="top:47.2px;height:13.1px;line-height:13.1px;font-size:9.1px;color:#333;left:954.2px;width:300px;text-align:center;">前复权</div>
<div class="b" style="left:1134.0px;top:46.3px;width:38.0px;height:15.0px;background:#e9edf6;"></div>
<div class="t" style="top:47.2px;height:13.1px;line-height:13.1px;font-size:9.1px;color:#333;left:998.5px;width:300px;text-align:center;">叠加</div>
<div class="b" style="left:1174.0px;top:46.3px;width:30.0px;height:15.0px;background:#e9edf6;"></div>
<div class="t" style="top:47.2px;height:13.1px;line-height:13.1px;font-size:9.1px;color:#333;left:1039.0px;width:300px;text-align:center;">画线</div>
<div class="b" style="left:1205.5px;top:46.3px;width:43.5px;height:15.2px;background:#eef2fb;border:1px solid #d9e0f2;box-sizing:border-box;"></div>
<div class="b" style="left:1249.5px;top:46.3px;width:11.5px;height:15.2px;background:#eef2fb;border:1px solid #d9e0f2;box-sizing:border-box;"></div>
<div class="t" style="top:46.5px;height:14.5px;line-height:14.5px;font-size:10.5px;color:#333;left:1083.0px;width:300px;text-align:center;">自选</div>
<div class="t" style="top:65.2px;height:13.2px;line-height:13.2px;font-size:9.2px;color:#333;left:24.7px;">870044 大消费</div>
<div class="t" style="top:65.2px;height:13.2px;line-height:13.2px;font-size:9.2px;color:#777;left:123.5px;">BOLL(26,2)</div>
<div class="t" style="top:64.9px;height:13.8px;line-height:13.8px;font-size:9.8px;color:#444;left:182.5px;">MID:2043.70</div>
<div class="t" style="top:65.1px;height:13.3px;line-height:13.3px;font-size:9.3px;color:#f0a03c;left:255.6px;">UPPER:2116.70</div>
<div class="t" style="top:65.1px;height:13.4px;line-height:13.4px;font-size:9.4px;color:#ff30ff;left:339.0px;">LOWER:1970.70</div>
<div class="t" style="top:412.1px;height:13px;line-height:13px;font-size:9px;color:#777;left:935.5px;width:300px;text-align:right;">成交额</div>
<div class="t" style="top:521.9px;height:13px;line-height:13px;font-size:9px;color:#777;left:935.5px;width:300px;text-align:right;">流动资金</div>
<div class="t" style="top:631.5px;height:13px;line-height:13px;font-size:9px;color:#777;left:935.5px;width:300px;text-align:right;">捕捞季节</div>
<div class="t" style="top:412.1px;height:13px;line-height:13px;font-size:9px;color:#777;left:25.0px;">成交额</div>
<div class="t" style="top:411.9px;height:13.4px;line-height:13.4px;font-size:9.4px;color:#333;left:61.5px;">950.09亿</div>
<div class="t" style="top:521.9px;height:13px;line-height:13px;font-size:9px;color:#777;left:25.0px;">流动资金</div>
<div class="t" style="top:631.5px;height:13px;line-height:13px;font-size:9px;color:#777;left:25.0px;">捕捞季节</div>
<div class="t" style="top:631.1px;height:13.8px;line-height:13.8px;font-size:9.8px;color:#f0a03c;left:69.0px;">X1:0.789</div>
<div class="t" style="top:631.1px;height:13.8px;line-height:13.8px;font-size:9.8px;color:#ff30ff;left:124.0px;">X2:0.809</div>
<div class="t" style="top:631.3px;height:13.4px;line-height:13.4px;font-size:9.4px;color:#3cb050;left:179.0px;">彩柱数:0.000</div>
<div class="t" style="top:81.9px;height:12.3px;line-height:12.3px;font-size:8.3px;color:#333;left:1251.5px;">8.017%</div>
<div class="t" style="top:117.1px;height:12.3px;line-height:12.3px;font-size:8.3px;color:#333;left:1251.5px;">6.338%</div>
<div class="t" style="top:152.3px;height:12.3px;line-height:12.3px;font-size:8.3px;color:#333;left:1251.5px;">4.659%</div>
<div class="t" style="top:187.5px;height:12.3px;line-height:12.3px;font-size:8.3px;color:#333;left:1251.5px;">2.981%</div>
<div class="t" style="top:222.6px;height:12.3px;line-height:12.3px;font-size:8.3px;color:#333;left:1251.5px;">1.302%</div>
<div class="t" style="top:257.8px;height:12.3px;line-height:12.3px;font-size:8.3px;color:#333;left:1250.0px;">-0.376%</div>
<div class="t" style="top:293.0px;height:12.3px;line-height:12.3px;font-size:8.3px;color:#333;left:1250.0px;">-2.055%</div>
<div class="t" style="top:328.1px;height:12.3px;line-height:12.3px;font-size:8.3px;color:#333;left:1250.0px;">-3.733%</div>
<div class="t" style="top:363.3px;height:12.3px;line-height:12.3px;font-size:8.3px;color:#333;left:1250.0px;">-5.412%</div>
<div class="t" style="top:398.5px;height:12.3px;line-height:12.3px;font-size:8.3px;color:#333;left:1250.0px;">-7.090%</div>
<div class="t" style="top:440.2px;height:12.2px;line-height:12.2px;font-size:8.2px;color:#333;left:1250.5px;">1173.12</div>
<div class="t" style="top:458.3px;height:12.2px;line-height:12.2px;font-size:8.2px;color:#333;left:1250.5px;">879.84</div>
<div class="t" style="top:476.5px;height:12.2px;line-height:12.2px;font-size:8.2px;color:#333;left:1250.5px;">586.56</div>
<div class="t" style="top:494.6px;height:12.2px;line-height:12.2px;font-size:8.2px;color:#333;left:1250.5px;">293.28</div>
<div class="t" style="top:504.8px;height:14px;line-height:14px;font-size:10px;color:#333;left:1250.5px;">X亿</div>
<div class="t" style="top:549.6px;height:12.2px;line-height:12.2px;font-size:8.2px;color:#333;left:1250.5px;">104.57</div>
<div class="t" style="top:567.7px;height:12.2px;line-height:12.2px;font-size:8.2px;color:#333;left:1250.5px;">93.25</div>
<div class="t" style="top:586.1px;height:12.2px;line-height:12.2px;font-size:8.2px;color:#333;left:1250.5px;">81.93</div>
<div class="t" style="top:604.2px;height:12.2px;line-height:12.2px;font-size:8.2px;color:#333;left:1250.5px;">70.60</div>
<div class="t" style="top:614.5px;height:14px;line-height:14px;font-size:10px;color:#333;left:1250.5px;">X亿</div>
<div class="t" style="top:660.1px;height:12.2px;line-height:12.2px;font-size:8.2px;color:#333;left:1250.5px;">0.542</div>
<div class="t" style="top:678.7px;height:12.2px;line-height:12.2px;font-size:8.2px;color:#333;left:1250.5px;">0.204</div>
<div class="t" style="top:696.8px;height:12.2px;line-height:12.2px;font-size:8.2px;color:#333;left:1250.5px;">-0.135</div>
<div class="t" style="top:715.2px;height:12.2px;line-height:12.2px;font-size:8.2px;color:#333;left:1250.5px;">-0.474</div>
<div class="t" style="top:102.8px;height:12.5px;line-height:12.5px;font-size:8.5px;color:#334;left:1185.0px;">2148.42</div>
<div class="t" style="top:361.6px;height:12.5px;line-height:12.5px;font-size:8.5px;color:#334;left:254.0px;">1900.69</div>
<div class="b" style="left:1287.5px;top:44.5px;width:1.0px;height:700.0px;background:#dfe3ee;"></div>
<div class="b" style="left:1286.6px;top:44.5px;width:1.6px;height:700.0px;background:#eceff7;"></div>
<div class="t" style="top:46.5px;height:18.5px;line-height:18.5px;font-size:14.5px;color:#222;font-weight:bold;left:1294.0px;">870044 大消费</div>
<div class="t" style="top:66.5px;height:19px;line-height:19px;font-size:15px;color:#f02222;font-weight:bold;left:1294.0px;">2147.18</div>
<div class="t" style="top:68.5px;height:15.5px;line-height:15.5px;font-size:11.5px;color:#f02222;font-weight:bold;left:1353.5px;">+1.11%</div>
<div class="t" style="top:68.5px;height:15.5px;line-height:15.5px;font-size:11.5px;color:#f02222;font-weight:bold;left:1400.0px;">+23.53</div>
<div class="b" style="left:1288.0px;top:87.0px;width:207.0px;height:1.0px;background:#dfe3ee;"></div>
<div class="t" style="top:90.3px;height:15px;line-height:15px;font-size:11px;color:#777;left:1291.0px;">现价</div>
<div class="t" style="top:90.3px;height:15px;line-height:15px;font-size:11px;color:#f03c3c;left:1089.0px;width:300px;text-align:right;">2147.18</div>
<div class="t" style="top:90.3px;height:15px;line-height:15px;font-size:11px;color:#777;left:1394.0px;">涨幅</div>
<div class="t" style="top:90.3px;height:15px;line-height:15px;font-size:11px;color:#f03c3c;left:1192.0px;width:300px;text-align:right;">1.11%</div>
<div class="t" style="top:107.1px;height:15px;line-height:15px;font-size:11px;color:#777;left:1291.0px;">涨跌</div>
<div class="t" style="top:107.1px;height:15px;line-height:15px;font-size:11px;color:#f03c3c;left:1089.0px;width:300px;text-align:right;">23.53</div>
<div class="t" style="top:107.1px;height:15px;line-height:15px;font-size:11px;color:#777;left:1394.0px;">振幅</div>
<div class="t" style="top:107.1px;height:15px;line-height:15px;font-size:11px;color:#333;left:1192.0px;width:300px;text-align:right;">1.50%</div>
<div class="t" style="top:124.2px;height:15px;line-height:15px;font-size:11px;color:#777;left:1291.0px;">最高</div>
<div class="t" style="top:124.2px;height:15px;line-height:15px;font-size:11px;color:#f03c3c;left:1089.0px;width:300px;text-align:right;">2148.42</div>
<div class="t" style="top:124.2px;height:15px;line-height:15px;font-size:11px;color:#777;left:1394.0px;">最低</div>
<div class="t" style="top:124.2px;height:15px;line-height:15px;font-size:11px;color:#1a9a3c;left:1192.0px;width:300px;text-align:right;">2116.52</div>
<div class="t" style="top:141.4px;height:15px;line-height:15px;font-size:11px;color:#777;left:1291.0px;">今开</div>
<div class="t" style="top:141.4px;height:15px;line-height:15px;font-size:11px;color:#f03c3c;left:1089.0px;width:300px;text-align:right;">2128.90</div>
<div class="t" style="top:141.4px;height:15px;line-height:15px;font-size:11px;color:#777;left:1394.0px;">均价</div>
<div class="t" style="top:141.4px;height:15px;line-height:15px;font-size:11px;color:#f03c3c;left:1192.0px;width:300px;text-align:right;">2147.18</div>
<div class="t" style="top:159.2px;height:15px;line-height:15px;font-size:11px;color:#777;left:1291.0px;">成交量</div>
<div class="t" style="top:159.2px;height:15px;line-height:15px;font-size:11px;color:#333;left:1089.0px;width:300px;text-align:right;">5627.89万</div>
<div class="t" style="top:159.2px;height:15px;line-height:15px;font-size:11px;color:#777;left:1394.0px;">成交额</div>
<div class="t" style="top:159.2px;height:15px;line-height:15px;font-size:11px;color:#333;left:1192.0px;width:300px;text-align:right;">950.09亿</div>
<div class="t" style="top:176.1px;height:15px;line-height:15px;font-size:11px;color:#777;left:1291.0px;">量比</div>
<div class="t" style="top:176.1px;height:15px;line-height:15px;font-size:11px;color:#333;left:1089.0px;width:300px;text-align:right;">1.11</div>
<div class="t" style="top:176.1px;height:15px;line-height:15px;font-size:11px;color:#777;left:1394.0px;">换手</div>
<div class="t" style="top:176.1px;height:15px;line-height:15px;font-size:11px;color:#333;left:1192.0px;width:300px;text-align:right;">-</div>
<div class="b" style="left:1288.0px;top:158.0px;width:207.0px;height:1.0px;background:#dfe3ee;"></div>
<div class="b" style="left:1288.0px;top:191.3px;width:207.0px;height:1.0px;background:#dfe3ee;"></div>
<div class="b" style="left:1288.0px;top:194.0px;width:207.0px;height:17.5px;background:#f0f2f7;"></div>
<div class="t" style="top:195.3px;height:15px;line-height:15px;font-size:11px;color:#777;left:1294.0px;">细分主题</div>
<div class="t" style="top:195.3px;height:15px;line-height:15px;font-size:11px;color:#777;left:1119.0px;width:300px;text-align:right;">涨幅</div>
<div class="t" style="top:195.3px;height:15px;line-height:15px;font-size:11px;color:#777;left:1185.0px;width:300px;text-align:right;">主力净买额</div>
<div class="t" style="top:212.3px;height:16px;line-height:16px;font-size:12px;color:#333;left:1294.0px;">地摊经济</div>
<div class="t" style="top:212.3px;height:16px;line-height:16px;font-size:12px;color:#f03c3c;left:1118.0px;width:300px;text-align:right;">1.59%</div>
<div class="t" style="top:212.3px;height:16px;line-height:16px;font-size:12px;color:#f03c3c;left:1184.0px;width:300px;text-align:right;">18.29亿</div>
<div class="t" style="top:230.5px;height:16px;line-height:16px;font-size:12px;color:#333;left:1294.0px;">AI手机</div>
<div class="t" style="top:230.5px;height:16px;line-height:16px;font-size:12px;color:#f03c3c;left:1118.0px;width:300px;text-align:right;">1.51%</div>
<div class="t" style="top:230.5px;height:16px;line-height:16px;font-size:12px;color:#f03c3c;left:1184.0px;width:300px;text-align:right;">29.84亿</div>
<div class="t" style="top:248.0px;height:16px;line-height:16px;font-size:12px;color:#333;left:1294.0px;">小家电</div>
<div class="t" style="top:248.0px;height:16px;line-height:16px;font-size:12px;color:#f03c3c;left:1118.0px;width:300px;text-align:right;">1.20%</div>
<div class="t" style="top:248.0px;height:16px;line-height:16px;font-size:12px;color:#f03c3c;left:1184.0px;width:300px;text-align:right;">1.92亿</div>
<div class="t" style="top:265.5px;height:16px;line-height:16px;font-size:12px;color:#333;left:1294.0px;">智能手机</div>
<div class="t" style="top:265.5px;height:16px;line-height:16px;font-size:12px;color:#f03c3c;left:1118.0px;width:300px;text-align:right;">1.02%</div>
<div class="t" style="top:265.5px;height:16px;line-height:16px;font-size:12px;color:#f03c3c;left:1184.0px;width:300px;text-align:right;">45.27亿</div>
<div class="b" style="left:1288.0px;top:285.0px;width:207.0px;height:1.0px;background:#dfe3ee;"></div>
<div class="t" style="top:288.8px;height:14.5px;line-height:14.5px;font-size:10.5px;color:#777;left:1290.0px;">涨跌分布</div>
<div class="b" style="left:1289.0px;top:305.0px;width:167.5px;height:7.3px;background:#e81010;"></div>
<div class="b" style="left:1456.3px;top:305.0px;width:3.8px;height:7.3px;background:#2a2a2a;"></div>
<div class="b" style="left:1460.0px;top:305.0px;width:33.5px;height:7.3px;background:#1a8f3c;"></div>
<div class="t" style="top:313.1px;height:14.5px;line-height:14.5px;font-size:10.5px;color:#777;left:1290.0px;">上涨</div>
<div class="t" style="top:312.6px;height:15.5px;line-height:15.5px;font-size:11.5px;color:#f03c3c;left:1051.5px;width:300px;text-align:right;">157</div>
<div class="t" style="top:313.1px;height:14.5px;line-height:14.5px;font-size:10.5px;color:#777;left:1359.5px;">平</div>
<div class="t" style="top:312.6px;height:15.5px;line-height:15.5px;font-size:11.5px;color:#1a9a3c;left:1121.0px;width:300px;text-align:right;">4</div>
<div class="t" style="top:313.1px;height:14.5px;line-height:14.5px;font-size:10.5px;color:#777;left:1429.0px;">下跌</div>
<div class="t" style="top:312.6px;height:15.5px;line-height:15.5px;font-size:11.5px;color:#1a9a3c;left:1193.0px;width:300px;text-align:right;">31</div>
<div class="b" style="left:1288.0px;top:329.0px;width:207.0px;height:1.0px;background:#dfe3ee;"></div>
<div class="t" style="top:333.2px;height:14.5px;line-height:14.5px;font-size:10.5px;color:#777;left:1241.5px;width:300px;text-align:center;">成分股</div>
<div class="b" style="left:1288.0px;top:348.5px;width:207.0px;height:18.0px;background:#f0f2f7;"></div>
<div class="t" style="top:350.7px;height:15px;line-height:15px;font-size:11px;color:#777;left:1295.0px;">名称</div>
<div class="t" style="top:350.7px;height:15px;line-height:15px;font-size:11px;color:#777;left:1248.0px;width:300px;text-align:center;">现价</div>
<div class="t" style="top:350.7px;height:15px;line-height:15px;font-size:11px;color:#777;left:1318.0px;width:300px;text-align:center;">涨幅</div>
<div class="t" style="top:368.0px;height:16px;line-height:16px;font-size:12px;color:#333;left:1293.7px;">奥雅股份</div>
<div class="t" style="top:368.0px;height:16px;line-height:16px;font-size:12px;color:#f03c3c;left:1233.4px;width:300px;text-align:center;">52.20</div>
<div class="t" style="top:368.0px;height:16px;line-height:16px;font-size:12px;color:#f03c3c;left:1295.0px;width:300px;text-align:center;">20.00%</div>
<div class="t" style="top:385.9px;height:16px;line-height:16px;font-size:12px;color:#333;left:1293.7px;">海欣食品</div>
<div class="t" style="top:385.9px;height:16px;line-height:16px;font-size:12px;color:#f03c3c;left:1233.4px;width:300px;text-align:center;">5.91</div>
<div class="t" style="top:385.9px;height:16px;line-height:16px;font-size:12px;color:#f03c3c;left:1295.0px;width:300px;text-align:center;">10.06%</div>
<div class="t" style="top:403.8px;height:16px;line-height:16px;font-size:12px;color:#333;left:1293.7px;">孚日股份</div>
<div class="t" style="top:403.8px;height:16px;line-height:16px;font-size:12px;color:#f03c3c;left:1233.4px;width:300px;text-align:center;">10.51</div>
<div class="t" style="top:403.8px;height:16px;line-height:16px;font-size:12px;color:#f03c3c;left:1295.0px;width:300px;text-align:center;">10.05%</div>
<div class="t" style="top:421.7px;height:16px;line-height:16px;font-size:12px;color:#333;left:1293.7px;">九阳股份</div>
<div class="t" style="top:421.7px;height:16px;line-height:16px;font-size:12px;color:#f03c3c;left:1233.4px;width:300px;text-align:center;">11.06</div>
<div class="t" style="top:421.7px;height:16px;line-height:16px;font-size:12px;color:#f03c3c;left:1295.0px;width:300px;text-align:center;">10.05%</div>
<div class="t" style="top:439.6px;height:16px;line-height:16px;font-size:12px;color:#333;left:1293.7px;">金富科技</div>
<div class="t" style="top:439.6px;height:16px;line-height:16px;font-size:12px;color:#f03c3c;left:1233.4px;width:300px;text-align:center;">16.89</div>
<div class="t" style="top:439.6px;height:16px;line-height:16px;font-size:12px;color:#f03c3c;left:1295.0px;width:300px;text-align:center;">10.03%</div>
<div class="t" style="top:457.5px;height:16px;line-height:16px;font-size:12px;color:#333;left:1293.7px;">三夫户外</div>
<div class="t" style="top:457.5px;height:16px;line-height:16px;font-size:12px;color:#f03c3c;left:1233.4px;width:300px;text-align:center;">17.45</div>
<div class="t" style="top:457.5px;height:16px;line-height:16px;font-size:12px;color:#f03c3c;left:1295.0px;width:300px;text-align:center;">10.03%</div>
<div class="t" style="top:475.4px;height:16px;line-height:16px;font-size:12px;color:#333;left:1293.7px;">东百集团</div>
<div class="t" style="top:475.4px;height:16px;line-height:16px;font-size:12px;color:#f03c3c;left:1233.4px;width:300px;text-align:center;">10.00</div>
<div class="t" style="top:475.4px;height:16px;line-height:16px;font-size:12px;color:#f03c3c;left:1295.0px;width:300px;text-align:center;">10.01%</div>
<div class="t" style="top:493.3px;height:16px;line-height:16px;font-size:12px;color:#333;left:1293.7px;">九牧王</div>
<div class="t" style="top:493.3px;height:16px;line-height:16px;font-size:12px;color:#f03c3c;left:1233.4px;width:300px;text-align:center;">11.44</div>
<div class="t" style="top:493.3px;height:16px;line-height:16px;font-size:12px;color:#f03c3c;left:1295.0px;width:300px;text-align:center;">10.00%</div>
<div class="t" style="top:511.2px;height:16px;line-height:16px;font-size:12px;color:#333;left:1293.7px;">步步高</div>
<div class="t" style="top:511.2px;height:16px;line-height:16px;font-size:12px;color:#f03c3c;left:1233.4px;width:300px;text-align:center;">5.94</div>
<div class="t" style="top:511.2px;height:16px;line-height:16px;font-size:12px;color:#f03c3c;left:1295.0px;width:300px;text-align:center;">10.00%</div>
<div class="t" style="top:529.1px;height:16px;line-height:16px;font-size:12px;color:#333;left:1293.7px;">祥源文旅</div>
<div class="t" style="top:529.1px;height:16px;line-height:16px;font-size:12px;color:#f03c3c;left:1233.4px;width:300px;text-align:center;">8.59</div>
<div class="t" style="top:529.1px;height:16px;line-height:16px;font-size:12px;color:#f03c3c;left:1295.0px;width:300px;text-align:center;">9.99%</div>
<div class="t" style="top:547.0px;height:16px;line-height:16px;font-size:12px;color:#333;left:1293.7px;">三元股份</div>
<div class="t" style="top:547.0px;height:16px;line-height:16px;font-size:12px;color:#f03c3c;left:1233.4px;width:300px;text-align:center;">7.28</div>
<div class="t" style="top:547.0px;height:16px;line-height:16px;font-size:12px;color:#f03c3c;left:1295.0px;width:300px;text-align:center;">9.97%</div>
<div class="t" style="top:564.9px;height:16px;line-height:16px;font-size:12px;color:#333;left:1293.7px;">新诺威</div>
<div class="t" style="top:564.9px;height:16px;line-height:16px;font-size:12px;color:#f03c3c;left:1233.4px;width:300px;text-align:center;">34.34</div>
<div class="t" style="top:564.9px;height:16px;line-height:16px;font-size:12px;color:#f03c3c;left:1295.0px;width:300px;text-align:center;">8.57%</div>
<div class="t" style="top:582.8px;height:16px;line-height:16px;font-size:12px;color:#333;left:1293.7px;">新澳股份</div>
<div class="t" style="top:582.8px;height:16px;line-height:16px;font-size:12px;color:#f03c3c;left:1233.4px;width:300px;text-align:center;">8.42</div>
<div class="t" style="top:582.8px;height:16px;line-height:16px;font-size:12px;color:#f03c3c;left:1295.0px;width:300px;text-align:center;">6.58%</div>
<div class="t" style="top:600.7px;height:16px;line-height:16px;font-size:12px;color:#333;left:1293.7px;">探路者</div>
<div class="t" style="top:600.7px;height:16px;line-height:16px;font-size:12px;color:#f03c3c;left:1233.4px;width:300px;text-align:center;">11.22</div>
<div class="t" style="top:600.7px;height:16px;line-height:16px;font-size:12px;color:#f03c3c;left:1295.0px;width:300px;text-align:center;">5.75%</div>
<div class="t" style="top:618.6px;height:16px;line-height:16px;font-size:12px;color:#333;left:1293.7px;">ST易购</div>
<div class="t" style="top:618.6px;height:16px;line-height:16px;font-size:12px;color:#f03c3c;left:1233.4px;width:300px;text-align:center;">1.79</div>
<div class="t" style="top:618.6px;height:16px;line-height:16px;font-size:12px;color:#f03c3c;left:1295.0px;width:300px;text-align:center;">5.29%</div>
<div class="t" style="top:636.5px;height:16px;line-height:16px;font-size:12px;color:#333;left:1293.7px;">*ST佳沃</div>
<div class="t" style="top:636.5px;height:16px;line-height:16px;font-size:12px;color:#f03c3c;left:1233.4px;width:300px;text-align:center;">12.20</div>
<div class="t" style="top:636.5px;height:16px;line-height:16px;font-size:12px;color:#f03c3c;left:1295.0px;width:300px;text-align:center;">4.99%</div>
<div class="t" style="top:654.4px;height:16px;line-height:16px;font-size:12px;color:#333;left:1293.7px;">南京新百</div>
<div class="t" style="top:654.4px;height:16px;line-height:16px;font-size:12px;color:#f03c3c;left:1233.4px;width:300px;text-align:center;">8.98</div>
<div class="t" style="top:654.4px;height:16px;line-height:16px;font-size:12px;color:#f03c3c;left:1295.0px;width:300px;text-align:center;">4.66%</div>
<div class="t" style="top:672.3px;height:16px;line-height:16px;font-size:12px;color:#333;left:1293.7px;">欢乐家</div>
<div class="t" style="top:672.3px;height:16px;line-height:16px;font-size:12px;color:#f03c3c;left:1233.4px;width:300px;text-align:center;">29.40</div>
<div class="t" style="top:672.3px;height:16px;line-height:16px;font-size:12px;color:#f03c3c;left:1295.0px;width:300px;text-align:center;">4.44%</div>
<div class="t" style="top:690.2px;height:16px;line-height:16px;font-size:12px;color:#333;left:1293.7px;">元祖股份</div>
<div class="t" style="top:690.2px;height:16px;line-height:16px;font-size:12px;color:#f03c3c;left:1233.4px;width:300px;text-align:center;">13.58</div>
<div class="t" style="top:690.2px;height:16px;line-height:16px;font-size:12px;color:#f03c3c;left:1295.0px;width:300px;text-align:center;">3.98%</div>
<div class="t" style="top:708.1px;height:16px;line-height:16px;font-size:12px;color:#333;left:1293.7px;">惠发食品</div>
<div class="t" style="top:708.1px;height:16px;line-height:16px;font-size:12px;color:#f03c3c;left:1233.4px;width:300px;text-align:center;">13.58</div>
<div class="t" style="top:708.1px;height:16px;line-height:16px;font-size:12px;color:#f03c3c;left:1295.0px;width:300px;text-align:center;">3.51%</div>
<div class="t" style="top:726.0px;height:16px;line-height:16px;font-size:12px;color:#333;left:1293.7px;">日辰股份</div>
<div class="t" style="top:726.0px;height:16px;line-height:16px;font-size:12px;color:#f03c3c;left:1233.4px;width:300px;text-align:center;">38.45</div>
<div class="t" style="top:726.0px;height:16px;line-height:16px;font-size:12px;color:#f03c3c;left:1295.0px;width:300px;text-align:center;">3.36%</div>
<svg width="1495" height="742" viewBox="0 0 1495 742" style="z-index:3">
<path d="M8,9.4 L17.9,6.4 L13.8,10.9 L15.8,10.9 L9.3,17.6 L11.9,12.7 L10.1,12.7 L13.3,9 L8.5,10.6 Z" fill="#ffe7a0"/>
<circle cx="1335.5" cy="9" r="2.8" fill="#e6e8f0"/><path d="M1330,17.5 q0,-5 5.5,-5 q5.5,0 5.5,5z" fill="#e6e8f0"/>
<line x1="1361.94" y1="13.70" x2="1364.02" y2="14.90" stroke="#e6e8f0" stroke-width="2.6"/><line x1="1359.00" y1="15.40" x2="1359.00" y2="17.80" stroke="#e6e8f0" stroke-width="2.6"/><line x1="1356.06" y1="13.70" x2="1353.98" y2="14.90" stroke="#e6e8f0" stroke-width="2.6"/><line x1="1356.06" y1="10.30" x2="1353.98" y2="9.10" stroke="#e6e8f0" stroke-width="2.6"/><line x1="1359.00" y1="8.60" x2="1359.00" y2="6.20" stroke="#e6e8f0" stroke-width="2.6"/><line x1="1361.94" y1="10.30" x2="1364.02" y2="9.10" stroke="#e6e8f0" stroke-width="2.6"/><circle cx="1359" cy="12" r="3.5" fill="#373c5d" stroke="#e6e8f0" stroke-width="2"/>
<rect x="1376" y="6.5" width="12" height="11" fill="none" stroke="#e6e8f0" stroke-width="1.4"/><rect x="1376" y="6.5" width="12" height="3" fill="#e6e8f0"/>
<polyline points="1409,9.5 1413.7,14 1418.4,9.5" fill="none" stroke="#e6e8f0" stroke-width="1.3"/>
<line x1="1433" y1="12.5" x2="1442.5" y2="12.5" stroke="#e6e8f0" stroke-width="1.3"/>
<rect x="1456.3" y="9.6" width="7" height="7" rx="1" fill="none" stroke="#e6e8f0" stroke-width="1.4"/><path d="M1459,9.6 v-1.6 q0,-1 1,-1 h5 q1,0 1,1 v5 q0,1 -1,1 h-1.7" fill="none" stroke="#e6e8f0" stroke-width="1.4"/>
<path d="M1479.5,7.5 l9,9 M1488.5,7.5 l-9,9" stroke="#e6e8f0" stroke-width="1.4"/>
<circle cx="1367" cy="33.5" r="5" fill="#77777c"/><rect x="1366.3" y="30.6" width="1.4" height="3.8" fill="#4a4a52"/><rect x="1366.3" y="35.2" width="1.4" height="1.4" fill="#4a4a52"/>
<line x1="1378.5" y1="33.5" x2="1388" y2="33.5" stroke="#e6e8f0" stroke-width="1.5"/>
<path d="M1426,33.5 h10 M1431,28.5 v10" stroke="#e6e8f0" stroke-width="1.5"/>
<path d="M1448.6,28.3 l1.5,3.4 3.7,.3 -2.8,2.4 .9,3.6 -3.3,-2 -3.3,2 .9,-3.6 -2.8,-2.4 3.7,-.3z" fill="#e6e8f0"/>
<path d="M1461.6,38.6 l.7,-3.2 5.8,-5.8 2.5,2.5 -5.8,5.8z" fill="#e6e8f0"/>
<rect x="1477.5" y="29" width="2.4" height="9" fill="#e6e8f0"/><rect x="1481" y="29" width="6" height="2" fill="#e6e8f0"/><rect x="1481" y="32.5" width="6" height="2" fill="#e6e8f0"/><rect x="1481" y="36" width="6" height="2" fill="#e6e8f0"/>
<path d="M36,29 l-5.2,4.6 h1.5 v4.2 h2.6 v-3 h2.2 v3 h2.6 v-4.2 h1.5z" fill="#e6e8f0"/>
<path d="M127,38.2 c-6,-4 -5.6,-8.6 -2.6,-8.6 c1.5,0 2.4,1 2.6,1.7 c.2,-.7 1.1,-1.7 2.6,-1.7 c3,0 3.4,4.6 -2.6,8.6z" fill="#e6e8f0"/>
<path d="M460,30.6 l6,6 M466,30.6 l-6,6" stroke="#e6e8f0" stroke-width="1.1"/>
<path d="M27,49.3 l4,4.2 -4,4.2 M31.5,49.3 l4,4.2 -4,4.2" fill="none" stroke="#505050" stroke-width="1.35"/>
<path d="M109.2,52.3 h6 l-3,3.4z" fill="#333"/>
<path d="M241,52.3 h6 l-3,3.4z" fill="#333"/>
<path d="M1040.6,52.5 h6 l-3,3.4z" fill="#333"/>
<path d="M1122.5,52.5 h6 l-3,3.4z" fill="#333"/>
<path d="M1162,52.5 h6 l-3,3.4z" fill="#333"/>
<path d="M1209.5,54 h8.6 M1213.8,49.7 v8.6" stroke="#3b78f0" stroke-width="1.6"/>
<path d="M1252.2,52.5 h6 l-3,3.4z" fill="#333"/>
<path d="M1269,49.6 l4,4.2 -4,4.2 M1273.5,49.6 l4,4.2 -4,4.2" fill="none" stroke="#505050" stroke-width="1.35"/>
<circle cx="115.7" cy="71.8" r="4.4" fill="#fff" stroke="#9bb6c9" stroke-width="1.2"/><path d="M113.6,70.9 h4.2 l-2.1,2.4z" fill="#444"/>
<path d="M243.8,68 l3.3,3.6 h-1.9 v4.2 h-2.8 v-4.2 h-1.9z" fill="#f02020"/>
<path d="M327,68 l3.3,3.6 h-1.9 v4.2 h-2.8 v-4.2 h-1.9z" fill="#f02020"/>
<path d="M414,76 l3.3,-3.6 h-1.9 v-4.2 h-2.8 v4.2 h-1.9z" fill="#12a838"/>
<path d="M1196.3,69.7 h-4.2 q-2.6,0 -2.6,2.7 q0,2.7 2.6,2.7 h4.4" fill="none" stroke="#636363" stroke-width="1.8"/><path d="M1195.3,66.2 l4,3.5 -4,3.5z" fill="#636363"/>
<circle cx="1210.7" cy="71.8" r="4.7" fill="#636363"/>
<path d="M1207.9,71.8 h5.6 M1210.7,69.0 v5.6" stroke="#fff" stroke-width="1.4"/>
<circle cx="1227.8" cy="71.8" r="4.7" fill="#636363"/>
<path d="M1225.0,71.8 h5.6" stroke="#fff" stroke-width="1.5"/>
<line x1="1247.57" y1="73.40" x2="1249.22" y2="74.35" stroke="#636363" stroke-width="2.3"/><line x1="1244.80" y1="75.00" x2="1244.80" y2="76.90" stroke="#636363" stroke-width="2.3"/><line x1="1242.03" y1="73.40" x2="1240.38" y2="74.35" stroke="#636363" stroke-width="2.3"/><line x1="1242.03" y1="70.20" x2="1240.38" y2="69.25" stroke="#636363" stroke-width="2.3"/><line x1="1244.80" y1="68.60" x2="1244.80" y2="66.70" stroke="#636363" stroke-width="2.3"/><line x1="1247.57" y1="70.20" x2="1249.22" y2="69.25" stroke="#636363" stroke-width="2.3"/><circle cx="1244.8" cy="71.8" r="3.1" fill="#fff" stroke="#636363" stroke-width="1.7"/><circle cx="1244.8" cy="71.8" r=".8" fill="#636363"/>
<circle cx="1261.9" cy="71.8" r="4.7" fill="#636363"/>
<path d="M1260.2,70.7 q0,-1.7 1.7,-1.7 q1.8,0 1.8,1.5 q0,.9 -1,1.4 q-.7,.4 -.7,1.2" fill="none" stroke="#fff" stroke-width="1.25"/><rect x="1261.25" y="73.89999999999999" width="1.3" height="1.3" fill="#fff"/>
<circle cx="1279" cy="71.8" r="4.7" fill="#636363"/>
<path d="M1277.1,69.89999999999999 l3.8,3.8 M1280.9,69.89999999999999 l-3.8,3.8" stroke="#fff" stroke-width="1.3"/>
<line x1="1246.77" y1="420.20" x2="1248.42" y2="421.15" stroke="#636363" stroke-width="2.3"/><line x1="1244.00" y1="421.80" x2="1244.00" y2="423.70" stroke="#636363" stroke-width="2.3"/><line x1="1241.23" y1="420.20" x2="1239.58" y2="421.15" stroke="#636363" stroke-width="2.3"/><line x1="1241.23" y1="417.00" x2="1239.58" y2="416.05" stroke="#636363" stroke-width="2.3"/><line x1="1244.00" y1="415.40" x2="1244.00" y2="413.50" stroke="#636363" stroke-width="2.3"/><line x1="1246.77" y1="417.00" x2="1248.42" y2="416.05" stroke="#636363" stroke-width="2.3"/><circle cx="1244" cy="418.6" r="3.1" fill="#fff" stroke="#636363" stroke-width="1.7"/><circle cx="1244" cy="418.6" r=".8" fill="#636363"/>
<circle cx="1261" cy="418.6" r="4.7" fill="#636363"/>
<path d="M1259.3,417.5 q0,-1.7 1.7,-1.7 q1.8,0 1.8,1.5 q0,.9 -1,1.4 q-.7,.4 -.7,1.2" fill="none" stroke="#fff" stroke-width="1.25"/><rect x="1260.35" y="420.70000000000005" width="1.3" height="1.3" fill="#fff"/>
<circle cx="1278.4" cy="418.6" r="4.7" fill="#636363"/>
<path d="M1276.5,416.70000000000005 l3.8,3.8 M1280.3000000000002,416.70000000000005 l-3.8,3.8" stroke="#fff" stroke-width="1.3"/>
<line x1="1246.77" y1="530.00" x2="1248.42" y2="530.95" stroke="#636363" stroke-width="2.3"/><line x1="1244.00" y1="531.60" x2="1244.00" y2="533.50" stroke="#636363" stroke-width="2.3"/><line x1="1241.23" y1="530.00" x2="1239.58" y2="530.95" stroke="#636363" stroke-width="2.3"/><line x1="1241.23" y1="526.80" x2="1239.58" y2="525.85" stroke="#636363" stroke-width="2.3"/><line x1="1244.00" y1="525.20" x2="1244.00" y2="523.30" stroke="#636363" stroke-width="2.3"/><line x1="1246.77" y1="526.80" x2="1248.42" y2="525.85" stroke="#636363" stroke-width="2.3"/><circle cx="1244" cy="528.4" r="3.1" fill="#fff" stroke="#636363" stroke-width="1.7"/><circle cx="1244" cy="528.4" r=".8" fill="#636363"/>
<circle cx="1261" cy="528.4" r="4.7" fill="#636363"/>
<path d="M1259.3,527.3 q0,-1.7 1.7,-1.7 q1.8,0 1.8,1.5 q0,.9 -1,1.4 q-.7,.4 -.7,1.2" fill="none" stroke="#fff" stroke-width="1.25"/><rect x="1260.35" y="530.5" width="1.3" height="1.3" fill="#fff"/>
<circle cx="1278.4" cy="528.4" r="4.7" fill="#636363"/>
<path d="M1276.5,526.5 l3.8,3.8 M1280.3000000000002,526.5 l-3.8,3.8" stroke="#fff" stroke-width="1.3"/>
<line x1="1246.77" y1="639.60" x2="1248.42" y2="640.55" stroke="#636363" stroke-width="2.3"/><line x1="1244.00" y1="641.20" x2="1244.00" y2="643.10" stroke="#636363" stroke-width="2.3"/><line x1="1241.23" y1="639.60" x2="1239.58" y2="640.55" stroke="#636363" stroke-width="2.3"/><line x1="1241.23" y1="636.40" x2="1239.58" y2="635.45" stroke="#636363" stroke-width="2.3"/><line x1="1244.00" y1="634.80" x2="1244.00" y2="632.90" stroke="#636363" stroke-width="2.3"/><line x1="1246.77" y1="636.40" x2="1248.42" y2="635.45" stroke="#636363" stroke-width="2.3"/><circle cx="1244" cy="638" r="3.1" fill="#fff" stroke="#636363" stroke-width="1.7"/><circle cx="1244" cy="638" r=".8" fill="#636363"/>
<circle cx="1261" cy="638" r="4.7" fill="#636363"/>
<path d="M1259.3,636.9 q0,-1.7 1.7,-1.7 q1.8,0 1.8,1.5 q0,.9 -1,1.4 q-.7,.4 -.7,1.2" fill="none" stroke="#fff" stroke-width="1.25"/><rect x="1260.35" y="640.1" width="1.3" height="1.3" fill="#fff"/>
<circle cx="1278.4" cy="638" r="4.7" fill="#636363"/>
<path d="M1276.5,636.1 l3.8,3.8 M1280.3000000000002,636.1 l-3.8,3.8" stroke="#fff" stroke-width="1.3"/>
<path d="M105,422.8 l3.3,-3.6 h-1.9 v-4.2 h-2.8 v4.2 h-1.9z" fill="#12a838"/>
<path d="M113.5,634.2 l3.3,3.6 h-1.9 v4.2 h-2.8 v-4.2 h-1.9z" fill="#f02020"/>
<path d="M168,634.2 l3.3,3.6 h-1.9 v4.2 h-2.8 v-4.2 h-1.9z" fill="#f02020"/>
<path d="M1216.5,109.3 h5 m-1.8,-1.6 l1.8,1.6 -1.8,1.6" fill="none" stroke="#334" stroke-width=".9"/>
<path d="M246.5,367.3 h7" fill="none" stroke="#334" stroke-width=".9"/>
<circle cx="1399" cy="56" r="4.6" fill="#555"/><rect x="1398.3" y="53.2" width="1.4" height="1.4" fill="#fff"/><rect x="1398.3" y="55.4" width="1.4" height="3.4" fill="#fff"/>
</svg>
</body></html>
